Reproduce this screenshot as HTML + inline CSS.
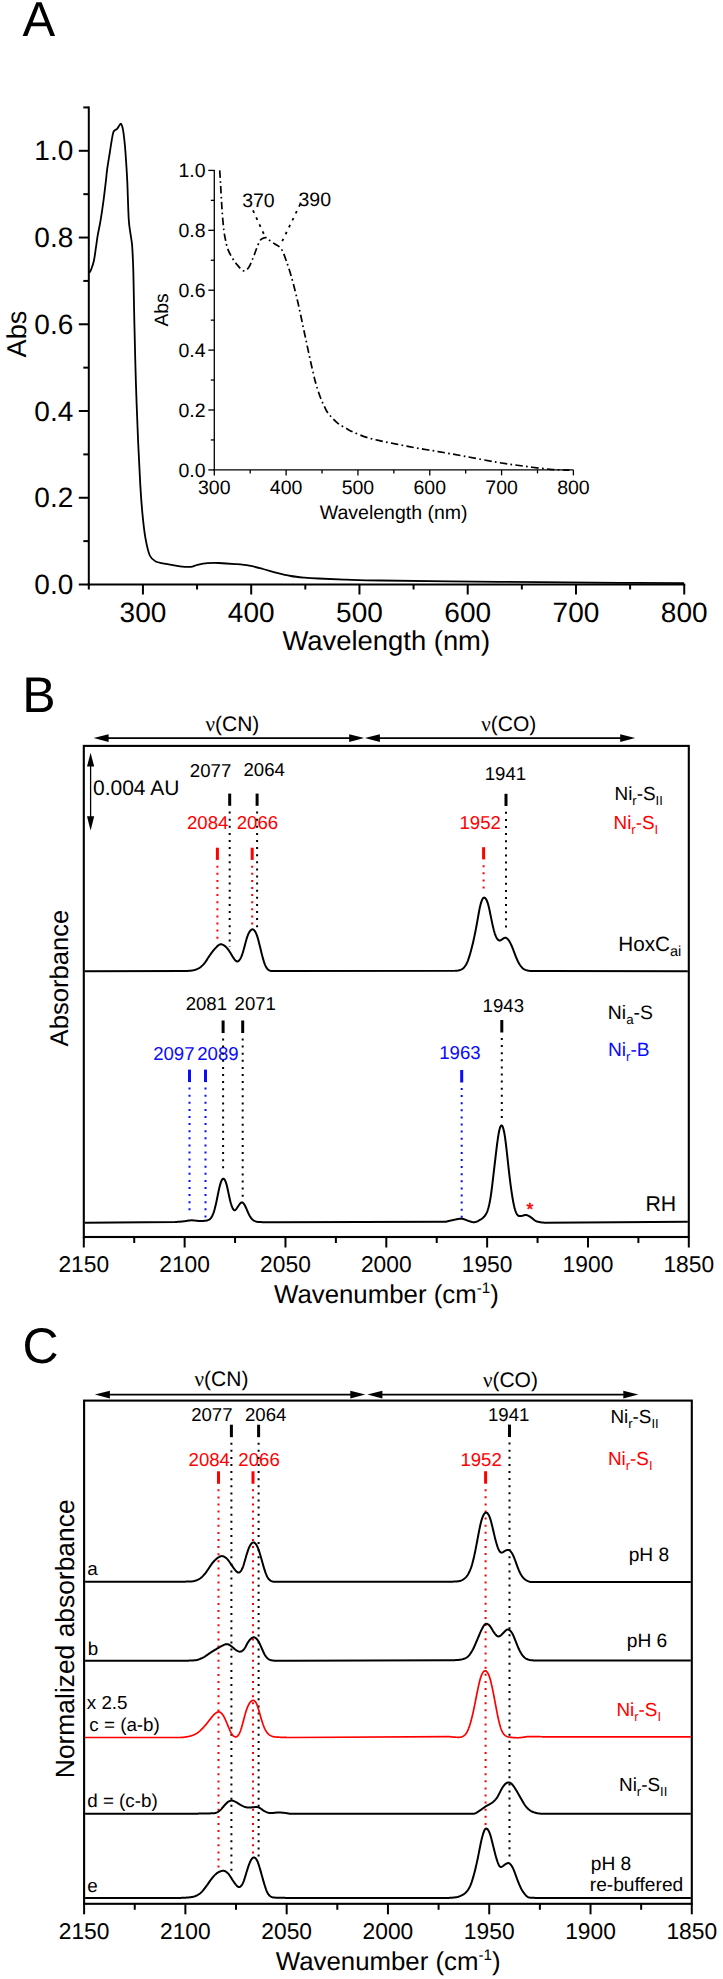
<!DOCTYPE html>
<html><head><meta charset="utf-8"><style>
html,body{margin:0;padding:0;background:#fff;overflow:hidden;}
svg{display:block;font-family:"Liberation Sans", sans-serif;text-rendering:geometricPrecision;}
</style></head><body>
<svg width="723" height="1979" viewBox="0 0 723 1979">
<rect width="723" height="1979" fill="#fff"/>
<text x="22.50" y="36.00" font-size="49" text-anchor="start" fill="#000" >A</text>
<line x1="88.80" y1="106.43" x2="88.80" y2="585.50" stroke="#000" stroke-width="2" />
<line x1="87.80" y1="584.50" x2="685.23" y2="584.50" stroke="#000" stroke-width="2" />
<line x1="78.80" y1="584.50" x2="88.80" y2="584.50" stroke="#000" stroke-width="2" />
<text x="73.30" y="594.10" font-size="28" text-anchor="end" fill="#000" >0.0</text>
<line x1="83.30" y1="541.13" x2="88.80" y2="541.13" stroke="#000" stroke-width="2" />
<line x1="78.80" y1="497.76" x2="88.80" y2="497.76" stroke="#000" stroke-width="2" />
<text x="73.30" y="507.36" font-size="28" text-anchor="end" fill="#000" >0.2</text>
<line x1="83.30" y1="454.39" x2="88.80" y2="454.39" stroke="#000" stroke-width="2" />
<line x1="78.80" y1="411.02" x2="88.80" y2="411.02" stroke="#000" stroke-width="2" />
<text x="73.30" y="420.62" font-size="28" text-anchor="end" fill="#000" >0.4</text>
<line x1="83.30" y1="367.65" x2="88.80" y2="367.65" stroke="#000" stroke-width="2" />
<line x1="78.80" y1="324.28" x2="88.80" y2="324.28" stroke="#000" stroke-width="2" />
<text x="73.30" y="333.88" font-size="28" text-anchor="end" fill="#000" >0.6</text>
<line x1="83.30" y1="280.91" x2="88.80" y2="280.91" stroke="#000" stroke-width="2" />
<line x1="78.80" y1="237.54" x2="88.80" y2="237.54" stroke="#000" stroke-width="2" />
<text x="73.30" y="247.14" font-size="28" text-anchor="end" fill="#000" >0.8</text>
<line x1="83.30" y1="194.17" x2="88.80" y2="194.17" stroke="#000" stroke-width="2" />
<line x1="78.80" y1="150.80" x2="88.80" y2="150.80" stroke="#000" stroke-width="2" />
<text x="73.30" y="160.40" font-size="28" text-anchor="end" fill="#000" >1.0</text>
<line x1="83.30" y1="107.43" x2="88.80" y2="107.43" stroke="#000" stroke-width="2" />
<line x1="88.80" y1="584.50" x2="88.80" y2="589.50" stroke="#000" stroke-width="2" />
<line x1="142.93" y1="584.50" x2="142.93" y2="594.50" stroke="#000" stroke-width="2" />
<text x="142.93" y="622.00" font-size="28" text-anchor="middle" fill="#000" >300</text>
<line x1="197.06" y1="584.50" x2="197.06" y2="589.50" stroke="#000" stroke-width="2" />
<line x1="251.19" y1="584.50" x2="251.19" y2="594.50" stroke="#000" stroke-width="2" />
<text x="251.19" y="622.00" font-size="28" text-anchor="middle" fill="#000" >400</text>
<line x1="305.32" y1="584.50" x2="305.32" y2="589.50" stroke="#000" stroke-width="2" />
<line x1="359.45" y1="584.50" x2="359.45" y2="594.50" stroke="#000" stroke-width="2" />
<text x="359.45" y="622.00" font-size="28" text-anchor="middle" fill="#000" >500</text>
<line x1="413.58" y1="584.50" x2="413.58" y2="589.50" stroke="#000" stroke-width="2" />
<line x1="467.71" y1="584.50" x2="467.71" y2="594.50" stroke="#000" stroke-width="2" />
<text x="467.71" y="622.00" font-size="28" text-anchor="middle" fill="#000" >600</text>
<line x1="521.84" y1="584.50" x2="521.84" y2="589.50" stroke="#000" stroke-width="2" />
<line x1="575.97" y1="584.50" x2="575.97" y2="594.50" stroke="#000" stroke-width="2" />
<text x="575.97" y="622.00" font-size="28" text-anchor="middle" fill="#000" >700</text>
<line x1="630.10" y1="584.50" x2="630.10" y2="589.50" stroke="#000" stroke-width="2" />
<line x1="684.23" y1="584.50" x2="684.23" y2="594.50" stroke="#000" stroke-width="2" />
<text x="684.23" y="622.00" font-size="28" text-anchor="middle" fill="#000" >800</text>
<text x="386.30" y="650.00" font-size="27.4" text-anchor="middle" fill="#000" >Wavelength (nm)</text>
<text x="26.00" y="334.00" font-size="27.2" text-anchor="middle" fill="#000" transform="rotate(-90 26 334)">Abs</text>
<path d="M89.20,273.00 C89.52,272.43 90.32,271.63 91.10,269.60 C91.88,267.57 93.07,264.67 93.90,260.80 C94.73,256.93 95.47,250.65 96.10,246.40 C96.73,242.15 96.97,239.55 97.70,235.30 C98.43,231.05 99.57,226.43 100.50,220.90 C101.43,215.37 102.38,208.92 103.30,202.10 C104.22,195.28 105.37,185.38 106.00,180.00 C106.63,174.62 106.45,174.47 107.10,169.80 C107.75,165.13 109.15,156.80 109.90,152.00 C110.65,147.20 111.05,144.22 111.60,141.00 C112.15,137.78 112.65,134.50 113.20,132.70 C113.75,130.90 114.25,130.85 114.90,130.20 C115.55,129.55 116.37,129.58 117.10,128.80 C117.83,128.02 118.65,126.33 119.30,125.50 C119.95,124.67 120.45,123.43 121.00,123.80 C121.55,124.17 122.15,125.95 122.60,127.70 C123.05,129.45 123.30,131.17 123.70,134.30 C124.10,137.43 124.58,141.70 125.00,146.50 C125.42,151.30 125.82,157.20 126.20,163.10 C126.58,169.00 126.88,172.63 127.30,181.90 C127.72,191.17 128.18,210.17 128.70,218.70 C129.22,227.23 129.85,228.85 130.40,233.10 C130.95,237.35 131.60,240.13 132.00,244.20 C132.40,248.27 132.57,252.53 132.80,257.50 C133.03,262.47 133.13,262.92 133.40,274.00 C133.67,285.08 133.98,305.90 134.40,324.00 C134.82,342.10 135.28,363.07 135.90,382.60 C136.52,402.13 137.37,424.12 138.10,441.20 C138.83,458.28 139.57,472.90 140.30,485.10 C141.03,497.30 141.65,505.60 142.50,514.40 C143.35,523.20 144.18,531.05 145.40,537.90 C146.62,544.75 148.08,551.57 149.80,555.50 C151.52,559.43 152.77,560.05 155.70,561.50 C158.63,562.95 163.35,563.40 167.40,564.20 C171.45,565.00 176.40,565.85 180.00,566.30 C183.60,566.75 186.83,566.88 189.00,566.90 C191.17,566.92 191.58,566.73 193.00,566.40 C194.42,566.07 195.05,565.43 197.50,564.90 C199.95,564.37 204.17,563.52 207.70,563.20 C211.23,562.88 214.10,562.85 218.70,563.00 C223.30,563.15 230.22,563.65 235.30,564.10 C240.38,564.55 244.58,564.88 249.20,565.70 C253.82,566.52 258.40,567.80 263.00,569.00 C267.60,570.20 272.18,571.73 276.80,572.90 C281.42,574.07 286.08,575.22 290.70,576.00 C295.32,576.78 299.90,577.18 304.50,577.60 C309.10,578.02 311.38,578.17 318.30,578.50 C325.22,578.83 335.72,579.27 346.00,579.60 C356.28,579.93 362.67,580.22 380.00,580.50 C397.33,580.78 423.33,581.02 450.00,581.30 C476.67,581.58 511.67,581.95 540.00,582.20 C568.33,582.45 596.00,582.63 620.00,582.80 C644.00,582.97 673.33,583.13 684.00,583.20" fill="none" stroke="#000" stroke-width="1.8" stroke-linejoin="round" stroke-linecap="butt" />
<line x1="214.30" y1="169.90" x2="214.30" y2="470.40" stroke="#000" stroke-width="1.3" />
<line x1="213.80" y1="469.90" x2="573.40" y2="469.90" stroke="#000" stroke-width="1.3" />
<line x1="208.30" y1="469.90" x2="214.30" y2="469.90" stroke="#000" stroke-width="1.3" />
<text x="205.50" y="476.70" font-size="19.5" text-anchor="end" fill="#000" >0.0</text>
<line x1="210.80" y1="439.95" x2="214.30" y2="439.95" stroke="#000" stroke-width="1.3" />
<line x1="208.30" y1="410.00" x2="214.30" y2="410.00" stroke="#000" stroke-width="1.3" />
<text x="205.50" y="416.80" font-size="19.5" text-anchor="end" fill="#000" >0.2</text>
<line x1="210.80" y1="380.05" x2="214.30" y2="380.05" stroke="#000" stroke-width="1.3" />
<line x1="208.30" y1="350.10" x2="214.30" y2="350.10" stroke="#000" stroke-width="1.3" />
<text x="205.50" y="356.90" font-size="19.5" text-anchor="end" fill="#000" >0.4</text>
<line x1="210.80" y1="320.15" x2="214.30" y2="320.15" stroke="#000" stroke-width="1.3" />
<line x1="208.30" y1="290.20" x2="214.30" y2="290.20" stroke="#000" stroke-width="1.3" />
<text x="205.50" y="297.00" font-size="19.5" text-anchor="end" fill="#000" >0.6</text>
<line x1="210.80" y1="260.25" x2="214.30" y2="260.25" stroke="#000" stroke-width="1.3" />
<line x1="208.30" y1="230.30" x2="214.30" y2="230.30" stroke="#000" stroke-width="1.3" />
<text x="205.50" y="237.10" font-size="19.5" text-anchor="end" fill="#000" >0.8</text>
<line x1="210.80" y1="200.35" x2="214.30" y2="200.35" stroke="#000" stroke-width="1.3" />
<line x1="208.30" y1="170.40" x2="214.30" y2="170.40" stroke="#000" stroke-width="1.3" />
<text x="205.50" y="177.20" font-size="19.5" text-anchor="end" fill="#000" >1.0</text>
<line x1="214.30" y1="469.90" x2="214.30" y2="475.40" stroke="#000" stroke-width="1.3" />
<text x="214.30" y="494.30" font-size="19.5" text-anchor="middle" fill="#000" >300</text>
<line x1="250.21" y1="469.90" x2="250.21" y2="473.40" stroke="#000" stroke-width="1.3" />
<line x1="286.12" y1="469.90" x2="286.12" y2="475.40" stroke="#000" stroke-width="1.3" />
<text x="286.12" y="494.30" font-size="19.5" text-anchor="middle" fill="#000" >400</text>
<line x1="322.03" y1="469.90" x2="322.03" y2="473.40" stroke="#000" stroke-width="1.3" />
<line x1="357.94" y1="469.90" x2="357.94" y2="475.40" stroke="#000" stroke-width="1.3" />
<text x="357.94" y="494.30" font-size="19.5" text-anchor="middle" fill="#000" >500</text>
<line x1="393.85" y1="469.90" x2="393.85" y2="473.40" stroke="#000" stroke-width="1.3" />
<line x1="429.76" y1="469.90" x2="429.76" y2="475.40" stroke="#000" stroke-width="1.3" />
<text x="429.76" y="494.30" font-size="19.5" text-anchor="middle" fill="#000" >600</text>
<line x1="465.67" y1="469.90" x2="465.67" y2="473.40" stroke="#000" stroke-width="1.3" />
<line x1="501.58" y1="469.90" x2="501.58" y2="475.40" stroke="#000" stroke-width="1.3" />
<text x="501.58" y="494.30" font-size="19.5" text-anchor="middle" fill="#000" >700</text>
<line x1="537.49" y1="469.90" x2="537.49" y2="473.40" stroke="#000" stroke-width="1.3" />
<line x1="573.40" y1="469.90" x2="573.40" y2="475.40" stroke="#000" stroke-width="1.3" />
<text x="573.40" y="494.30" font-size="19.5" text-anchor="middle" fill="#000" >800</text>
<text x="393.70" y="519.40" font-size="19.5" text-anchor="middle" fill="#000" >Wavelength (nm)</text>
<text x="168.20" y="310.00" font-size="19.3" text-anchor="middle" fill="#000" transform="rotate(-90 168.2 310)">Abs</text>
<text x="258.40" y="207.00" font-size="19.5" text-anchor="middle" fill="#000" >370</text>
<text x="314.80" y="206.20" font-size="19.5" text-anchor="middle" fill="#000" >390</text>
<path d="M219.70,170.40 C219.83,172.50 220.25,178.73 220.50,183.00 C220.75,187.27 220.92,191.17 221.20,196.00 C221.48,200.83 221.77,206.33 222.20,212.00 C222.63,217.67 223.25,225.35 223.80,230.00 C224.35,234.65 224.85,236.77 225.50,239.90 C226.15,243.03 226.60,245.85 227.70,248.80 C228.80,251.75 230.43,254.83 232.10,257.60 C233.77,260.37 235.77,263.18 237.70,265.40 C239.63,267.62 241.87,270.53 243.70,270.90 C245.53,271.27 247.12,269.82 248.70,267.60 C250.28,265.38 251.90,260.73 253.20,257.60 C254.50,254.47 255.40,251.57 256.50,248.80 C257.60,246.03 258.88,242.67 259.80,241.00 C260.72,239.33 260.90,239.35 262.00,238.80 C263.10,238.25 265.10,237.42 266.40,237.70 C267.70,237.98 268.32,239.40 269.80,240.50 C271.28,241.60 273.65,243.20 275.30,244.30 C276.95,245.40 278.42,245.80 279.70,247.10 C280.98,248.40 281.90,249.80 283.00,252.10 C284.10,254.40 284.97,257.02 286.30,260.90 C287.63,264.78 289.48,270.22 291.00,275.40 C292.52,280.58 294.10,286.83 295.40,292.00 C296.70,297.17 297.68,301.42 298.80,306.40 C299.92,311.38 301.00,316.73 302.10,321.90 C303.20,327.07 304.30,332.23 305.40,337.40 C306.50,342.57 307.53,347.55 308.70,352.90 C309.87,358.25 311.15,364.17 312.40,369.50 C313.65,374.83 314.82,380.12 316.20,384.90 C317.58,389.68 319.45,394.87 320.70,398.20 C321.95,401.53 322.58,402.55 323.70,404.90 C324.82,407.25 325.95,410.10 327.40,412.30 C328.85,414.50 330.60,416.22 332.40,418.10 C334.20,419.98 336.02,421.95 338.20,423.60 C340.38,425.25 342.90,426.53 345.50,428.00 C348.10,429.47 350.10,430.78 353.80,432.40 C357.50,434.02 363.08,436.25 367.70,437.70 C372.32,439.15 376.90,440.07 381.50,441.10 C386.10,442.13 390.68,442.97 395.30,443.90 C399.92,444.83 404.58,445.83 409.20,446.70 C413.82,447.57 418.17,448.28 423.00,449.10 C427.83,449.92 431.22,450.40 438.20,451.60 C445.18,452.80 455.28,454.55 464.90,456.30 C474.52,458.05 486.22,460.48 495.90,462.10 C505.58,463.72 513.97,464.80 523.00,466.00 C532.03,467.20 542.35,468.60 550.10,469.30 C557.85,470.00 566.27,470.05 569.50,470.20" fill="none" stroke="#000" stroke-width="1.7" stroke-linejoin="round" stroke-linecap="butt" stroke-dasharray="7.5 3.3 1.7 3.3"/>
<path d="M253.0,210.3 L264.6,235.6" fill="none" stroke="#000" stroke-width="1.8" stroke-linejoin="round" stroke-linecap="butt" stroke-dasharray="2.7 5"/>
<path d="M300.2,204.2 L280.6,244.5" fill="none" stroke="#000" stroke-width="1.8" stroke-linejoin="round" stroke-linecap="butt" stroke-dasharray="2.6 5.1"/>
<text x="22.30" y="712.30" font-size="50" text-anchor="start" fill="#000" >B</text>
<rect x="83.8" y="745.9" width="605.00" height="491.10" fill="none" stroke="#000" stroke-width="2.1"/>
<line x1="107.60" y1="738.10" x2="350.20" y2="738.10" stroke="#000" stroke-width="1.6" />
<path d="M93.60,738.10 L108.60,734.30 L108.60,741.90 Z" fill="#000"/>
<path d="M364.20,738.10 L349.20,734.30 L349.20,741.90 Z" fill="#000"/>
<line x1="378.90" y1="738.10" x2="621.20" y2="738.10" stroke="#000" stroke-width="1.6" />
<path d="M364.90,738.10 L379.90,734.30 L379.90,741.90 Z" fill="#000"/>
<path d="M635.20,738.10 L620.20,734.30 L620.20,741.90 Z" fill="#000"/>
<text x="205.50" y="730.90" font-size="21" text-anchor="start" fill="#000" ><tspan font-family="Liberation Serif">&#957;</tspan>(CN)</text>
<text x="481.30" y="731.40" font-size="21" text-anchor="start" fill="#000" ><tspan font-family="Liberation Serif">&#957;</tspan>(CO)</text>
<line x1="90.60" y1="765.00" x2="90.60" y2="817.50" stroke="#000" stroke-width="1.3" />
<path d="M90.6,752.7 L87,766.6 L94.2,766.6 Z" fill="#000"/>
<path d="M90.6,830.5 L87,816.2 L94.2,816.2 Z" fill="#000"/>
<text x="92.96" y="794.80" font-size="21" text-anchor="start" fill="#000" >0.004 AU</text>
<text x="189.87" y="777.20" font-size="18.6" text-anchor="start" fill="#000" >2077</text>
<text x="243.47" y="776.00" font-size="18.6" text-anchor="start" fill="#000" >2064</text>
<text x="484.71" y="779.70" font-size="18.6" text-anchor="start" fill="#000" >1941</text>
<text x="186.97" y="828.70" font-size="18.6" text-anchor="start" fill="#ff0000" >2084</text>
<text x="236.77" y="828.70" font-size="18.6" text-anchor="start" fill="#ff0000" >2066</text>
<text x="459.50" y="829.40" font-size="18.6" text-anchor="start" fill="#ff0000" >1952</text>
<text x="614.49" y="800.30" font-size="18.9" fill="#000">Ni<tspan font-size="13" dy="5">r</tspan><tspan dy="-5">-S</tspan><tspan font-size="13" dy="5">II</tspan></text>
<text x="613.49" y="829.10" font-size="18.9" fill="#ff0000">Ni<tspan font-size="13" dy="5">r</tspan><tspan dy="-5">-S</tspan><tspan font-size="13" dy="5">I</tspan></text>
<line x1="229.70" y1="793.60" x2="229.70" y2="805.80" stroke="#000" stroke-width="3.0" />
<line x1="229.70" y1="811.60" x2="229.70" y2="947.00" stroke="#000" stroke-width="2.0" stroke-dasharray="2.0 5.10"/>
<line x1="257.10" y1="793.60" x2="257.10" y2="805.80" stroke="#000" stroke-width="3.0" />
<line x1="257.10" y1="811.60" x2="257.10" y2="931.00" stroke="#000" stroke-width="2.0" stroke-dasharray="2.0 5.10"/>
<line x1="506.00" y1="793.80" x2="506.00" y2="806.00" stroke="#000" stroke-width="3.0" />
<line x1="506.00" y1="811.80" x2="506.00" y2="930.50" stroke="#000" stroke-width="2.0" stroke-dasharray="2.0 5.10"/>
<line x1="217.40" y1="847.70" x2="217.40" y2="859.90" stroke="#ff0000" stroke-width="3.0" />
<line x1="217.40" y1="865.70" x2="217.40" y2="941.50" stroke="#ff0000" stroke-width="2.0" stroke-dasharray="2.0 5.10"/>
<line x1="252.20" y1="847.70" x2="252.20" y2="859.90" stroke="#ff0000" stroke-width="3.0" />
<line x1="252.20" y1="865.70" x2="252.20" y2="925.50" stroke="#ff0000" stroke-width="2.0" stroke-dasharray="2.0 5.10"/>
<line x1="483.60" y1="847.20" x2="483.60" y2="859.40" stroke="#ff0000" stroke-width="3.0" />
<line x1="483.60" y1="865.20" x2="483.60" y2="891.00" stroke="#ff0000" stroke-width="2.0" stroke-dasharray="2.0 5.10"/>
<text x="618.24" y="950.5" font-size="20.7">HoxC<tspan font-size="14.5" dy="5">ai</tspan></text>
<text x="185.67" y="1010.00" font-size="18.6" text-anchor="start" fill="#000" >2081</text>
<text x="234.57" y="1010.00" font-size="18.6" text-anchor="start" fill="#000" >2071</text>
<text x="482.61" y="1011.80" font-size="18.6" text-anchor="start" fill="#000" >1943</text>
<text x="607.85" y="1019.2" font-size="19.4">Ni<tspan font-size="13.3" dy="5">a</tspan><tspan dy="-5">-S</tspan></text>
<text x="153.17" y="1059.60" font-size="18.6" text-anchor="start" fill="#0a0aff" >2097</text>
<text x="197.27" y="1059.60" font-size="18.6" text-anchor="start" fill="#0a0aff" >2089</text>
<text x="439.21" y="1059.20" font-size="18.6" text-anchor="start" fill="#0a0aff" >1963</text>
<text x="607.96" y="1056.2" font-size="19.2" fill="#0a0aff">Ni<tspan font-size="13" dy="5">r</tspan><tspan dy="-5">-B</tspan></text>
<line x1="223.10" y1="1020.50" x2="223.10" y2="1033.00" stroke="#000" stroke-width="3.0" />
<line x1="223.10" y1="1038.50" x2="223.10" y2="1171.00" stroke="#000" stroke-width="2.0" stroke-dasharray="2.0 5.10"/>
<line x1="242.70" y1="1020.50" x2="242.70" y2="1033.00" stroke="#000" stroke-width="3.0" />
<line x1="242.70" y1="1038.50" x2="242.70" y2="1198.50" stroke="#000" stroke-width="2.0" stroke-dasharray="2.0 5.10"/>
<line x1="501.80" y1="1020.00" x2="501.80" y2="1032.50" stroke="#000" stroke-width="3.0" />
<line x1="501.80" y1="1038.00" x2="501.80" y2="1120.00" stroke="#000" stroke-width="2.0" stroke-dasharray="2.0 5.10"/>
<line x1="189.50" y1="1069.60" x2="189.50" y2="1082.10" stroke="#0a0aff" stroke-width="3.0" />
<line x1="189.50" y1="1087.60" x2="189.50" y2="1215.00" stroke="#0a0aff" stroke-width="2.0" stroke-dasharray="2.0 5.10"/>
<line x1="205.50" y1="1069.60" x2="205.50" y2="1082.10" stroke="#0a0aff" stroke-width="3.0" />
<line x1="205.50" y1="1087.60" x2="205.50" y2="1219.50" stroke="#0a0aff" stroke-width="2.0" stroke-dasharray="2.0 5.10"/>
<line x1="461.70" y1="1070.00" x2="461.70" y2="1082.50" stroke="#0a0aff" stroke-width="3.0" />
<line x1="461.70" y1="1088.00" x2="461.70" y2="1218.50" stroke="#0a0aff" stroke-width="2.0" stroke-dasharray="2.0 5.10"/>
<text x="645.40" y="1210.50" font-size="21.3" text-anchor="start" fill="#000" >RH</text>
<text x="529.8" y="1214.8" font-size="17.5" text-anchor="middle" fill="#ff0000" stroke="#ff0000" stroke-width="0.5">*</text>
<path d="M84.8,971.20 L185.0,970.99 L185.5,970.99 L186.0,970.98 L186.5,970.96 L187.0,970.95 L187.5,970.93 L188.0,970.90 L188.5,970.87 L189.0,970.84 L189.5,970.80 L190.0,970.76 L190.5,970.72 L191.0,970.67 L191.5,970.62 L192.0,970.55 L192.5,970.48 L193.0,970.39 L193.5,970.28 L194.0,970.16 L194.5,970.02 L195.0,969.86 L195.5,969.69 L196.0,969.51 L196.5,969.31 L197.0,969.10 L197.5,968.88 L198.0,968.64 L198.5,968.39 L199.0,968.11 L199.5,967.81 L200.0,967.48 L200.5,967.11 L201.0,966.72 L201.5,966.29 L202.0,965.84 L202.5,965.36 L203.0,964.85 L203.5,964.32 L204.0,963.76 L204.5,963.16 L205.0,962.53 L205.5,961.86 L206.0,961.15 L206.5,960.40 L207.0,959.63 L207.5,958.84 L208.0,958.05 L208.5,957.27 L209.0,956.50 L209.5,955.75 L210.0,955.02 L210.5,954.31 L211.0,953.62 L211.5,952.94 L212.0,952.27 L212.5,951.62 L213.0,950.99 L213.5,950.37 L214.0,949.78 L214.5,949.21 L215.0,948.65 L215.5,948.12 L216.0,947.59 L216.5,947.07 L217.0,946.57 L217.5,946.08 L218.0,945.63 L218.5,945.22 L219.0,944.88 L219.5,944.60 L220.0,944.40 L220.5,944.29 L221.0,944.26 L221.5,944.31 L222.0,944.43 L222.5,944.61 L223.0,944.84 L223.5,945.11 L224.0,945.42 L224.5,945.76 L225.0,946.14 L225.5,946.55 L226.0,947.01 L226.5,947.52 L227.0,948.07 L227.5,948.67 L228.0,949.30 L228.5,949.97 L229.0,950.68 L229.5,951.43 L230.0,952.22 L230.5,953.04 L231.0,953.88 L231.5,954.74 L232.0,955.58 L232.5,956.40 L233.0,957.19 L233.5,957.95 L234.0,958.66 L234.5,959.33 L235.0,959.95 L235.5,960.49 L236.0,960.93 L236.5,961.26 L237.0,961.43 L237.5,961.45 L238.0,961.30 L238.5,960.99 L239.0,960.54 L239.5,959.95 L240.0,959.24 L240.5,958.39 L241.0,957.41 L241.5,956.28 L242.0,954.98 L242.5,953.53 L243.0,951.95 L243.5,950.25 L244.0,948.47 L244.5,946.63 L245.0,944.75 L245.5,942.86 L246.0,940.99 L246.5,939.21 L247.0,937.55 L247.5,936.07 L248.0,934.77 L248.5,933.64 L249.0,932.67 L249.5,931.82 L250.0,931.09 L250.5,930.47 L251.0,929.97 L251.5,929.60 L252.0,929.38 L252.5,929.31 L253.0,929.41 L253.5,929.67 L254.0,930.08 L254.5,930.64 L255.0,931.33 L255.5,932.16 L256.0,933.14 L256.5,934.30 L257.0,935.65 L257.5,937.18 L258.0,938.89 L258.5,940.73 L259.0,942.67 L259.5,944.67 L260.0,946.71 L260.5,948.78 L261.0,950.84 L261.5,952.89 L262.0,954.88 L262.5,956.80 L263.0,958.61 L263.5,960.31 L264.0,961.89 L264.5,963.35 L265.0,964.67 L265.5,965.84 L266.0,966.85 L266.5,967.70 L267.0,968.41 L267.5,968.99 L268.0,969.47 L268.5,969.87 L269.0,970.20 L269.5,970.47 L270.0,970.67 L270.5,970.81 L271.0,970.90 L271.5,970.95 L272.0,970.98 L272.5,970.99 L273.0,971.00 L273.5,971.00 L274.0,971.00 L274.5,971.00 L275.0,971.00 L275.5,971.00 L276.0,971.00 L276.5,971.00 L277.0,971.00 L277.5,971.00 L278.0,971.00 L278.5,971.00 L279.0,971.00 L279.5,971.00 L280.0,971.00 L280.5,971.00 L281.0,971.00 L281.5,971.00 L282.0,971.00 L282.5,971.00 L283.0,971.00 L283.5,971.00 L284.0,971.00 L284.5,971.00 L285.0,971.00 L455.0,970.87 L455.5,970.85 L456.0,970.82 L456.5,970.77 L457.0,970.71 L457.5,970.63 L458.0,970.54 L458.5,970.43 L459.0,970.32 L459.5,970.18 L460.0,970.03 L460.5,969.86 L461.0,969.67 L461.5,969.43 L462.0,969.15 L462.5,968.81 L463.0,968.41 L463.5,967.96 L464.0,967.44 L464.5,966.86 L465.0,966.22 L465.5,965.50 L466.0,964.69 L466.5,963.78 L467.0,962.75 L467.5,961.58 L468.0,960.30 L468.5,958.90 L469.0,957.40 L469.5,955.83 L470.0,954.18 L470.5,952.45 L471.0,950.65 L471.5,948.77 L472.0,946.81 L472.5,944.77 L473.0,942.66 L473.5,940.47 L474.0,938.20 L474.5,935.85 L475.0,933.43 L475.5,930.93 L476.0,928.36 L476.5,925.71 L477.0,922.99 L477.5,920.19 L478.0,917.35 L478.5,914.50 L479.0,911.73 L479.5,909.13 L480.0,906.76 L480.5,904.67 L481.0,902.87 L481.5,901.35 L482.0,900.08 L482.5,899.07 L483.0,898.32 L483.5,897.83 L484.0,897.61 L484.5,897.65 L485.0,897.93 L485.5,898.41 L486.0,899.09 L486.5,899.96 L487.0,901.03 L487.5,902.35 L488.0,903.92 L488.5,905.76 L489.0,907.84 L489.5,910.09 L490.0,912.47 L490.5,914.92 L491.0,917.39 L491.5,919.85 L492.0,922.27 L492.5,924.60 L493.0,926.81 L493.5,928.87 L494.0,930.76 L494.5,932.49 L495.0,934.04 L495.5,935.42 L496.0,936.63 L496.5,937.67 L497.0,938.54 L497.5,939.26 L498.0,939.81 L498.5,940.20 L499.0,940.44 L499.5,940.52 L500.0,940.46 L500.5,940.29 L501.0,940.03 L501.5,939.73 L502.0,939.39 L502.5,939.05 L503.0,938.70 L503.5,938.38 L504.0,938.09 L504.5,937.87 L505.0,937.75 L505.5,937.74 L506.0,937.85 L506.5,938.08 L507.0,938.43 L507.5,938.88 L508.0,939.41 L508.5,940.03 L509.0,940.74 L509.5,941.53 L510.0,942.41 L510.5,943.37 L511.0,944.40 L511.5,945.50 L512.0,946.65 L512.5,947.87 L513.0,949.13 L513.5,950.44 L514.0,951.78 L514.5,953.13 L515.0,954.47 L515.5,955.77 L516.0,957.03 L516.5,958.23 L517.0,959.38 L517.5,960.48 L518.0,961.51 L518.5,962.48 L519.0,963.37 L519.5,964.20 L520.0,964.96 L520.5,965.66 L521.0,966.32 L521.5,966.93 L522.0,967.49 L522.5,968.00 L523.0,968.45 L523.5,968.85 L524.0,969.19 L524.5,969.47 L525.0,969.70 L525.5,969.90 L526.0,970.07 L526.5,970.22 L527.0,970.35 L527.5,970.47 L528.0,970.59 L528.5,970.69 L529.0,970.78 L529.5,970.86 L530.0,970.92 L530.5,970.98 L531.0,971.02 L531.5,971.05 L532.0,971.07 L532.5,971.09 L533.0,971.09 L533.5,971.10 L534.0,971.10 L534.5,971.10 L535.0,971.10 L535.5,971.10 L536.0,971.09 L536.5,971.09 L537.0,971.09 L537.5,971.08 L538.0,971.08 L538.5,971.07 L539.0,971.07 L539.5,971.06 L540.0,971.05 L540.5,971.04 L541.0,971.03 L541.5,971.02 L542.0,971.01 L542.5,970.99 L543.0,970.98 L543.5,970.96 L544.0,970.95 L544.5,970.93 L545.0,970.92 L687.8,971.30" fill="none" stroke="#000" stroke-width="2.0" stroke-linejoin="round" stroke-linecap="butt" />
<path d="M84.8,1222.80 L175.0,1221.98 L175.5,1221.96 L176.0,1221.94 L176.5,1221.92 L177.0,1221.89 L177.5,1221.86 L178.0,1221.83 L178.5,1221.80 L179.0,1221.76 L179.5,1221.72 L180.0,1221.68 L180.5,1221.64 L181.0,1221.60 L181.5,1221.56 L182.0,1221.51 L182.5,1221.47 L183.0,1221.42 L183.5,1221.36 L184.0,1221.30 L184.5,1221.23 L185.0,1221.16 L185.5,1221.09 L186.0,1221.00 L186.5,1220.92 L187.0,1220.84 L187.5,1220.75 L188.0,1220.67 L188.5,1220.60 L189.0,1220.53 L189.5,1220.47 L190.0,1220.42 L190.5,1220.38 L191.0,1220.35 L191.5,1220.34 L192.0,1220.34 L192.5,1220.36 L193.0,1220.38 L193.5,1220.42 L194.0,1220.46 L194.5,1220.51 L195.0,1220.56 L195.5,1220.62 L196.0,1220.68 L196.5,1220.74 L197.0,1220.79 L197.5,1220.84 L198.0,1220.88 L198.5,1220.92 L199.0,1220.95 L199.5,1220.97 L200.0,1220.98 L200.5,1220.98 L201.0,1220.97 L201.5,1220.96 L202.0,1220.95 L202.5,1220.93 L203.0,1220.90 L203.5,1220.88 L204.0,1220.84 L204.5,1220.81 L205.0,1220.76 L205.5,1220.71 L206.0,1220.65 L206.5,1220.57 L207.0,1220.47 L207.5,1220.33 L208.0,1220.16 L208.5,1219.94 L209.0,1219.67 L209.5,1219.34 L210.0,1218.95 L210.5,1218.48 L211.0,1217.90 L211.5,1217.20 L212.0,1216.35 L212.5,1215.34 L213.0,1214.18 L213.5,1212.85 L214.0,1211.36 L214.5,1209.69 L215.0,1207.85 L215.5,1205.84 L216.0,1203.67 L216.5,1201.37 L217.0,1198.97 L217.5,1196.51 L218.0,1194.03 L218.5,1191.59 L219.0,1189.27 L219.5,1187.10 L220.0,1185.15 L220.5,1183.43 L221.0,1181.95 L221.5,1180.73 L222.0,1179.77 L222.5,1179.11 L223.0,1178.76 L223.5,1178.72 L224.0,1178.98 L224.5,1179.52 L225.0,1180.33 L225.5,1181.39 L226.0,1182.74 L226.5,1184.37 L227.0,1186.28 L227.5,1188.43 L228.0,1190.74 L228.5,1193.13 L229.0,1195.49 L229.5,1197.76 L230.0,1199.91 L230.5,1201.90 L231.0,1203.71 L231.5,1205.32 L232.0,1206.73 L232.5,1207.93 L233.0,1208.91 L233.5,1209.65 L234.0,1210.13 L234.5,1210.33 L235.0,1210.25 L235.5,1209.93 L236.0,1209.40 L236.5,1208.74 L237.0,1207.99 L237.5,1207.22 L238.0,1206.45 L238.5,1205.70 L239.0,1204.97 L239.5,1204.29 L240.0,1203.66 L240.5,1203.13 L241.0,1202.71 L241.5,1202.45 L242.0,1202.38 L242.5,1202.51 L243.0,1202.83 L243.5,1203.35 L244.0,1204.02 L244.5,1204.82 L245.0,1205.73 L245.5,1206.72 L246.0,1207.78 L246.5,1208.90 L247.0,1210.07 L247.5,1211.24 L248.0,1212.39 L248.5,1213.49 L249.0,1214.52 L249.5,1215.47 L250.0,1216.34 L250.5,1217.14 L251.0,1217.87 L251.5,1218.53 L252.0,1219.10 L252.5,1219.60 L253.0,1220.03 L253.5,1220.38 L254.0,1220.69 L254.5,1220.95 L255.0,1221.18 L255.5,1221.37 L256.0,1221.54 L256.5,1221.68 L257.0,1221.79 L257.5,1221.88 L258.0,1221.95 L258.5,1221.99 L259.0,1222.02 L259.5,1222.05 L260.0,1222.07 L260.5,1222.09 L261.0,1222.10 L261.5,1222.12 L262.0,1222.13 L262.5,1222.15 L263.0,1222.16 L263.5,1222.17 L264.0,1222.19 L264.5,1222.20 L265.0,1222.21 L265.5,1222.22 L266.0,1222.23 L266.5,1222.23 L267.0,1222.24 L267.5,1222.25 L268.0,1222.26 L268.5,1222.26 L269.0,1222.27 L269.5,1222.27 L270.0,1222.28 L270.5,1222.28 L271.0,1222.29 L271.5,1222.29 L272.0,1222.29 L272.5,1222.29 L273.0,1222.30 L273.5,1222.30 L274.0,1222.30 L274.5,1222.30 L275.0,1222.30 L445.0,1221.87 L445.5,1221.79 L446.0,1221.70 L446.5,1221.58 L447.0,1221.46 L447.5,1221.34 L448.0,1221.21 L448.5,1221.08 L449.0,1220.96 L449.5,1220.84 L450.0,1220.72 L450.5,1220.61 L451.0,1220.49 L451.5,1220.38 L452.0,1220.27 L452.5,1220.17 L453.0,1220.06 L453.5,1219.95 L454.0,1219.85 L454.5,1219.74 L455.0,1219.63 L455.5,1219.52 L456.0,1219.41 L456.5,1219.31 L457.0,1219.20 L457.5,1219.10 L458.0,1219.01 L458.5,1218.92 L459.0,1218.85 L459.5,1218.78 L460.0,1218.73 L460.5,1218.69 L461.0,1218.68 L461.5,1218.69 L462.0,1218.73 L462.5,1218.80 L463.0,1218.90 L463.5,1219.04 L464.0,1219.20 L464.5,1219.38 L465.0,1219.58 L465.5,1219.78 L466.0,1219.99 L466.5,1220.19 L467.0,1220.38 L467.5,1220.57 L468.0,1220.75 L468.5,1220.92 L469.0,1221.09 L469.5,1221.25 L470.0,1221.42 L470.5,1221.57 L471.0,1221.72 L471.5,1221.86 L472.0,1221.97 L472.5,1222.07 L473.0,1222.14 L473.5,1222.18 L474.0,1222.19 L474.5,1222.16 L475.0,1222.10 L475.5,1222.00 L476.0,1221.86 L476.5,1221.69 L477.0,1221.50 L477.5,1221.27 L478.0,1221.03 L478.5,1220.77 L479.0,1220.49 L479.5,1220.20 L480.0,1219.90 L480.5,1219.59 L481.0,1219.27 L481.5,1218.93 L482.0,1218.57 L482.5,1218.19 L483.0,1217.77 L483.5,1217.32 L484.0,1216.82 L484.5,1216.26 L485.0,1215.64 L485.5,1214.94 L486.0,1214.13 L486.5,1213.19 L487.0,1212.08 L487.5,1210.77 L488.0,1209.25 L488.5,1207.49 L489.0,1205.50 L489.5,1203.25 L490.0,1200.70 L490.5,1197.83 L491.0,1194.59 L491.5,1191.00 L492.0,1187.10 L492.5,1182.96 L493.0,1178.69 L493.5,1174.36 L494.0,1170.05 L494.5,1165.77 L495.0,1161.52 L495.5,1157.30 L496.0,1153.11 L496.5,1148.97 L497.0,1144.94 L497.5,1141.10 L498.0,1137.56 L498.5,1134.41 L499.0,1131.70 L499.5,1129.47 L500.0,1127.72 L500.5,1126.46 L501.0,1125.69 L501.5,1125.43 L502.0,1125.67 L502.5,1126.40 L503.0,1127.60 L503.5,1129.27 L504.0,1131.42 L504.5,1134.06 L505.0,1137.21 L505.5,1140.82 L506.0,1144.81 L506.5,1149.09 L507.0,1153.57 L507.5,1158.15 L508.0,1162.76 L508.5,1167.32 L509.0,1171.77 L509.5,1176.07 L510.0,1180.18 L510.5,1184.10 L511.0,1187.81 L511.5,1191.32 L512.0,1194.63 L512.5,1197.72 L513.0,1200.60 L513.5,1203.22 L514.0,1205.58 L514.5,1207.66 L515.0,1209.47 L515.5,1211.02 L516.0,1212.34 L516.5,1213.44 L517.0,1214.33 L517.5,1215.01 L518.0,1215.50 L518.5,1215.81 L519.0,1215.98 L519.5,1216.05 L520.0,1216.06 L520.5,1216.03 L521.0,1215.98 L521.5,1215.91 L522.0,1215.83 L522.5,1215.72 L523.0,1215.60 L523.5,1215.47 L524.0,1215.33 L524.5,1215.20 L525.0,1215.09 L525.5,1215.02 L526.0,1215.01 L526.5,1215.06 L527.0,1215.17 L527.5,1215.34 L528.0,1215.55 L528.5,1215.81 L529.0,1216.09 L529.5,1216.39 L530.0,1216.71 L530.5,1217.05 L531.0,1217.40 L531.5,1217.76 L532.0,1218.15 L532.5,1218.55 L533.0,1218.97 L533.5,1219.38 L534.0,1219.78 L534.5,1220.16 L535.0,1220.50 L535.5,1220.80 L536.0,1221.05 L536.5,1221.26 L537.0,1221.44 L537.5,1221.59 L538.0,1221.72 L538.5,1221.85 L539.0,1221.96 L539.5,1222.06 L540.0,1222.16 L540.5,1222.25 L541.0,1222.34 L541.5,1222.41 L542.0,1222.48 L542.5,1222.53 L543.0,1222.58 L543.5,1222.62 L544.0,1222.65 L544.5,1222.67 L545.0,1222.68 L687.8,1221.80" fill="none" stroke="#000" stroke-width="2.0" stroke-linejoin="round" stroke-linecap="butt" />
<line x1="83.80" y1="1237.00" x2="83.80" y2="1247.50" stroke="#000" stroke-width="2" />
<text x="83.80" y="1271.60" font-size="22.8" text-anchor="middle" fill="#000" >2150</text>
<line x1="134.22" y1="1237.00" x2="134.22" y2="1243.00" stroke="#000" stroke-width="2" />
<line x1="184.63" y1="1237.00" x2="184.63" y2="1247.50" stroke="#000" stroke-width="2" />
<text x="184.63" y="1271.60" font-size="22.8" text-anchor="middle" fill="#000" >2100</text>
<line x1="235.05" y1="1237.00" x2="235.05" y2="1243.00" stroke="#000" stroke-width="2" />
<line x1="285.47" y1="1237.00" x2="285.47" y2="1247.50" stroke="#000" stroke-width="2" />
<text x="285.47" y="1271.60" font-size="22.8" text-anchor="middle" fill="#000" >2050</text>
<line x1="335.88" y1="1237.00" x2="335.88" y2="1243.00" stroke="#000" stroke-width="2" />
<line x1="386.30" y1="1237.00" x2="386.30" y2="1247.50" stroke="#000" stroke-width="2" />
<text x="386.30" y="1271.60" font-size="22.8" text-anchor="middle" fill="#000" >2000</text>
<line x1="436.72" y1="1237.00" x2="436.72" y2="1243.00" stroke="#000" stroke-width="2" />
<line x1="487.13" y1="1237.00" x2="487.13" y2="1247.50" stroke="#000" stroke-width="2" />
<text x="487.13" y="1271.60" font-size="22.8" text-anchor="middle" fill="#000" >1950</text>
<line x1="537.55" y1="1237.00" x2="537.55" y2="1243.00" stroke="#000" stroke-width="2" />
<line x1="587.97" y1="1237.00" x2="587.97" y2="1247.50" stroke="#000" stroke-width="2" />
<text x="587.97" y="1271.60" font-size="22.8" text-anchor="middle" fill="#000" >1900</text>
<line x1="638.38" y1="1237.00" x2="638.38" y2="1243.00" stroke="#000" stroke-width="2" />
<line x1="688.80" y1="1237.00" x2="688.80" y2="1247.50" stroke="#000" stroke-width="2" />
<text x="688.80" y="1271.60" font-size="22.8" text-anchor="middle" fill="#000" >1850</text>
<text x="386.40" y="1303.10" font-size="25.8" text-anchor="middle" fill="#000" >Wavenumber (cm<tspan font-size="15.2" dy="-10.6">-1</tspan><tspan dy="10.6">)</tspan></text>
<text x="67.70" y="978.10" font-size="25.6" text-anchor="middle" fill="#000" transform="rotate(-90 67.7 978.1)">Absorbance</text>
<text x="22.40" y="1363.30" font-size="50" text-anchor="start" fill="#000" >C</text>
<rect x="84.1" y="1400.6" width="607.70" height="503.20" fill="none" stroke="#000" stroke-width="2.1"/>
<line x1="108.90" y1="1394.60" x2="351.30" y2="1394.60" stroke="#000" stroke-width="1.6" />
<path d="M94.90,1394.60 L109.90,1390.80 L109.90,1398.40 Z" fill="#000"/>
<path d="M365.30,1394.60 L350.30,1390.80 L350.30,1398.40 Z" fill="#000"/>
<line x1="381.40" y1="1394.60" x2="624.30" y2="1394.60" stroke="#000" stroke-width="1.6" />
<path d="M367.40,1394.60 L382.40,1390.80 L382.40,1398.40 Z" fill="#000"/>
<path d="M638.30,1394.60 L623.30,1390.80 L623.30,1398.40 Z" fill="#000"/>
<text x="194.60" y="1386.30" font-size="21" text-anchor="start" fill="#000" ><tspan font-family="Liberation Serif">&#957;</tspan>(CN)</text>
<text x="482.90" y="1386.60" font-size="21" text-anchor="start" fill="#000" ><tspan font-family="Liberation Serif">&#957;</tspan>(CO)</text>
<text x="191.17" y="1420.60" font-size="18.6" text-anchor="start" fill="#000" >2077</text>
<text x="244.97" y="1420.60" font-size="18.6" text-anchor="start" fill="#000" >2064</text>
<text x="488.00" y="1421.00" font-size="18.6" text-anchor="start" fill="#000" >1941</text>
<text x="188.57" y="1465.60" font-size="18.6" text-anchor="start" fill="#ff0000" >2084</text>
<text x="238.37" y="1465.60" font-size="18.6" text-anchor="start" fill="#ff0000" >2066</text>
<text x="460.41" y="1466.00" font-size="18.6" text-anchor="start" fill="#ff0000" >1952</text>
<text x="610.39" y="1422.70" font-size="18.9" fill="#000">Ni<tspan font-size="13" dy="5">r</tspan><tspan dy="-5">-S</tspan><tspan font-size="13" dy="5">II</tspan></text>
<text x="607.89" y="1464.80" font-size="18.9" fill="#ff0000">Ni<tspan font-size="13" dy="5">r</tspan><tspan dy="-5">-S</tspan><tspan font-size="13" dy="5">I</tspan></text>
<line x1="231.40" y1="1424.70" x2="231.40" y2="1437.20" stroke="#000" stroke-width="3.0" />
<line x1="231.40" y1="1442.70" x2="231.40" y2="1871.00" stroke="#000" stroke-width="2.0" stroke-dasharray="2.0 5.10"/>
<line x1="258.60" y1="1424.70" x2="258.60" y2="1437.20" stroke="#000" stroke-width="3.0" />
<line x1="258.60" y1="1442.70" x2="258.60" y2="1857.00" stroke="#000" stroke-width="2.0" stroke-dasharray="2.0 5.10"/>
<line x1="509.50" y1="1424.60" x2="509.50" y2="1437.10" stroke="#000" stroke-width="3.0" />
<line x1="509.50" y1="1442.60" x2="509.50" y2="1859.50" stroke="#000" stroke-width="2.0" stroke-dasharray="2.0 5.10"/>
<line x1="218.50" y1="1471.30" x2="218.50" y2="1483.80" stroke="#ff0000" stroke-width="3.0" />
<line x1="218.50" y1="1489.30" x2="218.50" y2="1871.00" stroke="#ff0000" stroke-width="2.0" stroke-dasharray="2.0 5.10"/>
<line x1="253.00" y1="1471.30" x2="253.00" y2="1483.80" stroke="#ff0000" stroke-width="3.0" />
<line x1="253.00" y1="1489.30" x2="253.00" y2="1854.50" stroke="#ff0000" stroke-width="2.0" stroke-dasharray="2.0 5.10"/>
<line x1="485.60" y1="1471.20" x2="485.60" y2="1483.70" stroke="#ff0000" stroke-width="3.0" />
<line x1="485.60" y1="1489.20" x2="485.60" y2="1826.00" stroke="#ff0000" stroke-width="2.0" stroke-dasharray="2.0 5.10"/>
<text x="87.25" y="1574.60" font-size="18.8" text-anchor="start" fill="#000" >a</text>
<text x="87.78" y="1655.30" font-size="18.8" text-anchor="start" fill="#000" >b</text>
<text x="86.81" y="1709.30" font-size="18.8" text-anchor="start" fill="#000" >x 2.5</text>
<text x="89.35" y="1731.10" font-size="18.8" text-anchor="start" fill="#000" >c = (a-b)</text>
<text x="87.25" y="1807.10" font-size="18.8" text-anchor="start" fill="#000" >d = (c-b)</text>
<text x="87.25" y="1891.80" font-size="18.8" text-anchor="start" fill="#000" >e</text>
<text x="628.65" y="1560.50" font-size="19.2" text-anchor="start" fill="#000" >pH 8</text>
<text x="626.75" y="1647.00" font-size="19.2" text-anchor="start" fill="#000" >pH 6</text>
<text x="616.39" y="1716.40" font-size="18.9" fill="#ff0000">Ni<tspan font-size="13" dy="5">r</tspan><tspan dy="-5">-S</tspan><tspan font-size="13" dy="5">I</tspan></text>
<text x="618.99" y="1791.40" font-size="18.9" fill="#000">Ni<tspan font-size="13" dy="5">r</tspan><tspan dy="-5">-S</tspan><tspan font-size="13" dy="5">II</tspan></text>
<text x="590.75" y="1870.00" font-size="19.2" text-anchor="start" fill="#000" >pH 8</text>
<text x="589.75" y="1891.00" font-size="19.2" text-anchor="start" fill="#000" >re-buffered</text>
<path d="M85.1,1581.70 L180.0,1581.70 L180.5,1581.70 L181.0,1581.70 L181.5,1581.69 L182.0,1581.69 L182.5,1581.68 L183.0,1581.68 L183.5,1581.67 L184.0,1581.66 L184.5,1581.66 L185.0,1581.65 L185.5,1581.64 L186.0,1581.62 L186.5,1581.61 L187.0,1581.60 L187.5,1581.58 L188.0,1581.57 L188.5,1581.55 L189.0,1581.53 L189.5,1581.52 L190.0,1581.50 L190.5,1581.47 L191.0,1581.45 L191.5,1581.42 L192.0,1581.38 L192.5,1581.33 L193.0,1581.26 L193.5,1581.18 L194.0,1581.08 L194.5,1580.95 L195.0,1580.81 L195.5,1580.64 L196.0,1580.46 L196.5,1580.27 L197.0,1580.06 L197.5,1579.83 L198.0,1579.60 L198.5,1579.35 L199.0,1579.08 L199.5,1578.80 L200.0,1578.49 L200.5,1578.15 L201.0,1577.78 L201.5,1577.36 L202.0,1576.92 L202.5,1576.43 L203.0,1575.92 L203.5,1575.38 L204.0,1574.82 L204.5,1574.24 L205.0,1573.64 L205.5,1573.03 L206.0,1572.39 L206.5,1571.72 L207.0,1571.02 L207.5,1570.29 L208.0,1569.54 L208.5,1568.76 L209.0,1567.98 L209.5,1567.19 L210.0,1566.42 L210.5,1565.67 L211.0,1564.95 L211.5,1564.25 L212.0,1563.59 L212.5,1562.96 L213.0,1562.35 L213.5,1561.77 L214.0,1561.21 L214.5,1560.67 L215.0,1560.15 L215.5,1559.67 L216.0,1559.21 L216.5,1558.78 L217.0,1558.39 L217.5,1558.02 L218.0,1557.67 L218.5,1557.34 L219.0,1557.04 L219.5,1556.76 L220.0,1556.53 L220.5,1556.33 L221.0,1556.20 L221.5,1556.12 L222.0,1556.11 L222.5,1556.16 L223.0,1556.27 L223.5,1556.44 L224.0,1556.66 L224.5,1556.92 L225.0,1557.22 L225.5,1557.55 L226.0,1557.93 L226.5,1558.35 L227.0,1558.83 L227.5,1559.36 L228.0,1559.95 L228.5,1560.60 L229.0,1561.28 L229.5,1562.00 L230.0,1562.73 L230.5,1563.46 L231.0,1564.20 L231.5,1564.93 L232.0,1565.67 L232.5,1566.40 L233.0,1567.12 L233.5,1567.82 L234.0,1568.50 L234.5,1569.16 L235.0,1569.79 L235.5,1570.39 L236.0,1570.96 L236.5,1571.47 L237.0,1571.92 L237.5,1572.27 L238.0,1572.50 L238.5,1572.59 L239.0,1572.52 L239.5,1572.30 L240.0,1571.93 L240.5,1571.42 L241.0,1570.77 L241.5,1570.00 L242.0,1569.08 L242.5,1568.01 L243.0,1566.76 L243.5,1565.34 L244.0,1563.76 L244.5,1562.06 L245.0,1560.30 L245.5,1558.53 L246.0,1556.78 L246.5,1555.08 L247.0,1553.43 L247.5,1551.85 L248.0,1550.36 L248.5,1548.97 L249.0,1547.71 L249.5,1546.60 L250.0,1545.63 L250.5,1544.79 L251.0,1544.09 L251.5,1543.50 L252.0,1543.02 L252.5,1542.68 L253.0,1542.47 L253.5,1542.41 L254.0,1542.50 L254.5,1542.75 L255.0,1543.14 L255.5,1543.67 L256.0,1544.31 L256.5,1545.08 L257.0,1545.98 L257.5,1547.01 L258.0,1548.19 L258.5,1549.50 L259.0,1550.93 L259.5,1552.46 L260.0,1554.06 L260.5,1555.72 L261.0,1557.45 L261.5,1559.21 L262.0,1561.02 L262.5,1562.83 L263.0,1564.63 L263.5,1566.38 L264.0,1568.06 L264.5,1569.66 L265.0,1571.17 L265.5,1572.60 L266.0,1573.93 L266.5,1575.15 L267.0,1576.25 L267.5,1577.21 L268.0,1578.03 L268.5,1578.73 L269.0,1579.32 L269.5,1579.83 L270.0,1580.26 L270.5,1580.63 L271.0,1580.94 L271.5,1581.19 L272.0,1581.38 L272.5,1581.52 L273.0,1581.60 L273.5,1581.65 L274.0,1581.68 L274.5,1581.69 L275.0,1581.70 L275.5,1581.70 L276.0,1581.70 L276.5,1581.70 L277.0,1581.70 L277.5,1581.70 L278.0,1581.70 L278.5,1581.70 L279.0,1581.70 L279.5,1581.70 L280.0,1581.70 L280.5,1581.70 L281.0,1581.70 L281.5,1581.70 L282.0,1581.70 L282.5,1581.70 L283.0,1581.70 L283.5,1581.70 L284.0,1581.70 L284.5,1581.70 L285.0,1581.70 L285.5,1581.70 L286.0,1581.70 L286.5,1581.70 L287.0,1581.70 L287.5,1581.70 L288.0,1581.70 L288.5,1581.70 L289.0,1581.70 L289.5,1581.70 L290.0,1581.70 L450.0,1581.70 L450.5,1581.69 L451.0,1581.69 L451.5,1581.68 L452.0,1581.67 L452.5,1581.65 L453.0,1581.64 L453.5,1581.62 L454.0,1581.59 L454.5,1581.57 L455.0,1581.54 L455.5,1581.51 L456.0,1581.47 L456.5,1581.44 L457.0,1581.40 L457.5,1581.35 L458.0,1581.30 L458.5,1581.24 L459.0,1581.17 L459.5,1581.08 L460.0,1580.96 L460.5,1580.81 L461.0,1580.63 L461.5,1580.42 L462.0,1580.17 L462.5,1579.90 L463.0,1579.59 L463.5,1579.26 L464.0,1578.90 L464.5,1578.51 L465.0,1578.09 L465.5,1577.63 L466.0,1577.13 L466.5,1576.56 L467.0,1575.92 L467.5,1575.21 L468.0,1574.42 L468.5,1573.54 L469.0,1572.59 L469.5,1571.56 L470.0,1570.44 L470.5,1569.22 L471.0,1567.88 L471.5,1566.41 L472.0,1564.79 L472.5,1563.02 L473.0,1561.11 L473.5,1559.07 L474.0,1556.91 L474.5,1554.65 L475.0,1552.29 L475.5,1549.83 L476.0,1547.28 L476.5,1544.66 L477.0,1542.00 L477.5,1539.32 L478.0,1536.65 L478.5,1534.01 L479.0,1531.41 L479.5,1528.90 L480.0,1526.50 L480.5,1524.25 L481.0,1522.20 L481.5,1520.34 L482.0,1518.70 L482.5,1517.26 L483.0,1516.03 L483.5,1515.00 L484.0,1514.16 L484.5,1513.52 L485.0,1513.06 L485.5,1512.76 L486.0,1512.62 L486.5,1512.65 L487.0,1512.86 L487.5,1513.25 L488.0,1513.83 L488.5,1514.59 L489.0,1515.55 L489.5,1516.70 L490.0,1518.05 L490.5,1519.60 L491.0,1521.33 L491.5,1523.21 L492.0,1525.21 L492.5,1527.29 L493.0,1529.42 L493.5,1531.59 L494.0,1533.75 L494.5,1535.87 L495.0,1537.92 L495.5,1539.90 L496.0,1541.77 L496.5,1543.54 L497.0,1545.18 L497.5,1546.68 L498.0,1548.03 L498.5,1549.21 L499.0,1550.23 L499.5,1551.07 L500.0,1551.74 L500.5,1552.22 L501.0,1552.52 L501.5,1552.63 L502.0,1552.59 L502.5,1552.41 L503.0,1552.14 L503.5,1551.81 L504.0,1551.47 L504.5,1551.15 L505.0,1550.85 L505.5,1550.59 L506.0,1550.38 L506.5,1550.20 L507.0,1550.06 L507.5,1549.98 L508.0,1549.95 L508.5,1550.01 L509.0,1550.16 L509.5,1550.42 L510.0,1550.78 L510.5,1551.25 L511.0,1551.81 L511.5,1552.48 L512.0,1553.25 L512.5,1554.13 L513.0,1555.13 L513.5,1556.23 L514.0,1557.42 L514.5,1558.68 L515.0,1559.99 L515.5,1561.33 L516.0,1562.69 L516.5,1564.07 L517.0,1565.47 L517.5,1566.85 L518.0,1568.19 L518.5,1569.48 L519.0,1570.68 L519.5,1571.79 L520.0,1572.81 L520.5,1573.75 L521.0,1574.62 L521.5,1575.43 L522.0,1576.18 L522.5,1576.88 L523.0,1577.51 L523.5,1578.09 L524.0,1578.59 L524.5,1579.04 L525.0,1579.44 L525.5,1579.79 L526.0,1580.11 L526.5,1580.41 L527.0,1580.68 L527.5,1580.93 L528.0,1581.16 L528.5,1581.37 L529.0,1581.55 L529.5,1581.70 L530.0,1581.83 L530.5,1581.93 L531.0,1582.00 L531.5,1582.04 L532.0,1582.07 L532.5,1582.09 L533.0,1582.10 L533.5,1582.10 L534.0,1582.10 L534.5,1582.10 L535.0,1582.10 L535.5,1582.10 L536.0,1582.10 L536.5,1582.10 L537.0,1582.10 L537.5,1582.10 L538.0,1582.10 L538.5,1582.10 L539.0,1582.10 L539.5,1582.10 L540.0,1582.10 L540.5,1582.10 L541.0,1582.10 L541.5,1582.10 L542.0,1582.10 L542.5,1582.10 L543.0,1582.10 L543.5,1582.10 L544.0,1582.10 L544.5,1582.10 L545.0,1582.10 L690.8,1582.10" fill="none" stroke="#000" stroke-width="2.0" stroke-linejoin="round" stroke-linecap="butt" />
<path d="M85.1,1660.80 L180.0,1660.80 L180.5,1660.80 L181.0,1660.80 L181.5,1660.79 L182.0,1660.79 L182.5,1660.78 L183.0,1660.78 L183.5,1660.77 L184.0,1660.76 L184.5,1660.75 L185.0,1660.74 L185.5,1660.73 L186.0,1660.72 L186.5,1660.71 L187.0,1660.69 L187.5,1660.68 L188.0,1660.66 L188.5,1660.64 L189.0,1660.62 L189.5,1660.60 L190.0,1660.58 L190.5,1660.56 L191.0,1660.54 L191.5,1660.51 L192.0,1660.49 L192.5,1660.46 L193.0,1660.43 L193.5,1660.40 L194.0,1660.37 L194.5,1660.33 L195.0,1660.28 L195.5,1660.22 L196.0,1660.15 L196.5,1660.06 L197.0,1659.95 L197.5,1659.82 L198.0,1659.67 L198.5,1659.51 L199.0,1659.33 L199.5,1659.14 L200.0,1658.93 L200.5,1658.72 L201.0,1658.51 L201.5,1658.28 L202.0,1658.05 L202.5,1657.81 L203.0,1657.56 L203.5,1657.30 L204.0,1657.03 L204.5,1656.74 L205.0,1656.43 L205.5,1656.10 L206.0,1655.77 L206.5,1655.42 L207.0,1655.07 L207.5,1654.72 L208.0,1654.36 L208.5,1654.01 L209.0,1653.66 L209.5,1653.32 L210.0,1652.98 L210.5,1652.66 L211.0,1652.33 L211.5,1652.02 L212.0,1651.70 L212.5,1651.39 L213.0,1651.08 L213.5,1650.78 L214.0,1650.47 L214.5,1650.17 L215.0,1649.87 L215.5,1649.57 L216.0,1649.27 L216.5,1648.97 L217.0,1648.68 L217.5,1648.39 L218.0,1648.10 L218.5,1647.82 L219.0,1647.53 L219.5,1647.25 L220.0,1646.97 L220.5,1646.69 L221.0,1646.42 L221.5,1646.16 L222.0,1645.90 L222.5,1645.65 L223.0,1645.40 L223.5,1645.15 L224.0,1644.91 L224.5,1644.69 L225.0,1644.48 L225.5,1644.32 L226.0,1644.19 L226.5,1644.13 L227.0,1644.12 L227.5,1644.18 L228.0,1644.31 L228.5,1644.49 L229.0,1644.72 L229.5,1644.99 L230.0,1645.29 L230.5,1645.62 L231.0,1645.97 L231.5,1646.34 L232.0,1646.74 L232.5,1647.15 L233.0,1647.58 L233.5,1648.02 L234.0,1648.45 L234.5,1648.87 L235.0,1649.26 L235.5,1649.63 L236.0,1649.98 L236.5,1650.31 L237.0,1650.61 L237.5,1650.90 L238.0,1651.15 L238.5,1651.36 L239.0,1651.53 L239.5,1651.63 L240.0,1651.66 L240.5,1651.62 L241.0,1651.50 L241.5,1651.30 L242.0,1651.04 L242.5,1650.70 L243.0,1650.30 L243.5,1649.82 L244.0,1649.25 L244.5,1648.58 L245.0,1647.80 L245.5,1646.93 L246.0,1646.00 L246.5,1645.03 L247.0,1644.08 L247.5,1643.16 L248.0,1642.32 L248.5,1641.56 L249.0,1640.87 L249.5,1640.25 L250.0,1639.68 L250.5,1639.16 L251.0,1638.69 L251.5,1638.27 L252.0,1637.91 L252.5,1637.63 L253.0,1637.44 L253.5,1637.34 L254.0,1637.34 L254.5,1637.45 L255.0,1637.66 L255.5,1637.96 L256.0,1638.34 L256.5,1638.80 L257.0,1639.33 L257.5,1639.95 L258.0,1640.65 L258.5,1641.44 L259.0,1642.33 L259.5,1643.31 L260.0,1644.34 L260.5,1645.43 L261.0,1646.55 L261.5,1647.69 L262.0,1648.85 L262.5,1650.01 L263.0,1651.16 L263.5,1652.27 L264.0,1653.33 L264.5,1654.29 L265.0,1655.17 L265.5,1655.94 L266.0,1656.63 L266.5,1657.24 L267.0,1657.79 L267.5,1658.28 L268.0,1658.70 L268.5,1659.07 L269.0,1659.39 L269.5,1659.64 L270.0,1659.85 L270.5,1660.02 L271.0,1660.16 L271.5,1660.27 L272.0,1660.38 L272.5,1660.47 L273.0,1660.55 L273.5,1660.61 L274.0,1660.67 L274.5,1660.71 L275.0,1660.75 L275.5,1660.77 L276.0,1660.78 L276.5,1660.79 L277.0,1660.80 L277.5,1660.80 L278.0,1660.80 L278.5,1660.80 L279.0,1660.80 L279.5,1660.80 L280.0,1660.80 L280.5,1660.80 L281.0,1660.80 L281.5,1660.80 L282.0,1660.80 L282.5,1660.80 L283.0,1660.80 L283.5,1660.80 L284.0,1660.80 L284.5,1660.80 L285.0,1660.80 L285.5,1660.80 L286.0,1660.80 L286.5,1660.80 L287.0,1660.80 L287.5,1660.80 L288.0,1660.80 L288.5,1660.80 L289.0,1660.80 L289.5,1660.80 L290.0,1660.80 L450.0,1660.30 L450.5,1660.29 L451.0,1660.29 L451.5,1660.28 L452.0,1660.27 L452.5,1660.25 L453.0,1660.24 L453.5,1660.22 L454.0,1660.20 L454.5,1660.17 L455.0,1660.14 L455.5,1660.11 L456.0,1660.08 L456.5,1660.05 L457.0,1660.01 L457.5,1659.97 L458.0,1659.93 L458.5,1659.89 L459.0,1659.84 L459.5,1659.79 L460.0,1659.73 L460.5,1659.67 L461.0,1659.59 L461.5,1659.50 L462.0,1659.39 L462.5,1659.26 L463.0,1659.11 L463.5,1658.95 L464.0,1658.76 L464.5,1658.56 L465.0,1658.34 L465.5,1658.10 L466.0,1657.84 L466.5,1657.55 L467.0,1657.22 L467.5,1656.85 L468.0,1656.43 L468.5,1655.94 L469.0,1655.39 L469.5,1654.79 L470.0,1654.13 L470.5,1653.43 L471.0,1652.68 L471.5,1651.90 L472.0,1651.07 L472.5,1650.19 L473.0,1649.27 L473.5,1648.28 L474.0,1647.24 L474.5,1646.15 L475.0,1645.02 L475.5,1643.86 L476.0,1642.69 L476.5,1641.50 L477.0,1640.32 L477.5,1639.13 L478.0,1637.94 L478.5,1636.75 L479.0,1635.56 L479.5,1634.37 L480.0,1633.20 L480.5,1632.06 L481.0,1630.96 L481.5,1629.90 L482.0,1628.89 L482.5,1627.92 L483.0,1627.01 L483.5,1626.17 L484.0,1625.42 L484.5,1624.79 L485.0,1624.31 L485.5,1623.99 L486.0,1623.82 L486.5,1623.80 L487.0,1623.88 L487.5,1624.06 L488.0,1624.32 L488.5,1624.64 L489.0,1625.04 L489.5,1625.52 L490.0,1626.11 L490.5,1626.79 L491.0,1627.56 L491.5,1628.38 L492.0,1629.24 L492.5,1630.09 L493.0,1630.92 L493.5,1631.70 L494.0,1632.45 L494.5,1633.15 L495.0,1633.82 L495.5,1634.45 L496.0,1635.03 L496.5,1635.53 L497.0,1635.94 L497.5,1636.25 L498.0,1636.43 L498.5,1636.48 L499.0,1636.41 L499.5,1636.23 L500.0,1635.94 L500.5,1635.58 L501.0,1635.17 L501.5,1634.72 L502.0,1634.25 L502.5,1633.76 L503.0,1633.26 L503.5,1632.75 L504.0,1632.22 L504.5,1631.70 L505.0,1631.18 L505.5,1630.70 L506.0,1630.27 L506.5,1629.92 L507.0,1629.66 L507.5,1629.52 L508.0,1629.49 L508.5,1629.58 L509.0,1629.79 L509.5,1630.10 L510.0,1630.50 L510.5,1630.98 L511.0,1631.55 L511.5,1632.21 L512.0,1632.98 L512.5,1633.86 L513.0,1634.85 L513.5,1635.96 L514.0,1637.15 L514.5,1638.39 L515.0,1639.66 L515.5,1640.94 L516.0,1642.21 L516.5,1643.46 L517.0,1644.70 L517.5,1645.92 L518.0,1647.10 L518.5,1648.23 L519.0,1649.31 L519.5,1650.32 L520.0,1651.28 L520.5,1652.18 L521.0,1653.04 L521.5,1653.85 L522.0,1654.62 L522.5,1655.33 L523.0,1655.98 L523.5,1656.56 L524.0,1657.08 L524.5,1657.52 L525.0,1657.91 L525.5,1658.24 L526.0,1658.53 L526.5,1658.80 L527.0,1659.03 L527.5,1659.25 L528.0,1659.45 L528.5,1659.63 L529.0,1659.79 L529.5,1659.92 L530.0,1660.04 L530.5,1660.13 L531.0,1660.20 L531.5,1660.26 L532.0,1660.30 L532.5,1660.33 L533.0,1660.36 L533.5,1660.38 L534.0,1660.40 L534.5,1660.42 L535.0,1660.44 L535.5,1660.45 L536.0,1660.47 L536.5,1660.48 L537.0,1660.50 L537.5,1660.51 L538.0,1660.52 L538.5,1660.53 L539.0,1660.54 L539.5,1660.55 L540.0,1660.56 L540.5,1660.57 L541.0,1660.57 L541.5,1660.58 L542.0,1660.58 L542.5,1660.59 L543.0,1660.59 L543.5,1660.59 L544.0,1660.60 L544.5,1660.60 L545.0,1660.60 L690.8,1660.60" fill="none" stroke="#000" stroke-width="2.0" stroke-linejoin="round" stroke-linecap="butt" />
<path d="M85.1,1737.49 L180.0,1737.49 L180.5,1737.48 L181.0,1737.46 L181.5,1737.44 L182.0,1737.41 L182.5,1737.37 L183.0,1737.33 L183.5,1737.28 L184.0,1737.22 L184.5,1737.16 L185.0,1737.09 L185.5,1737.02 L186.0,1736.94 L186.5,1736.86 L187.0,1736.77 L187.5,1736.69 L188.0,1736.59 L188.5,1736.50 L189.0,1736.40 L189.5,1736.29 L190.0,1736.16 L190.5,1736.03 L191.0,1735.89 L191.5,1735.73 L192.0,1735.55 L192.5,1735.37 L193.0,1735.17 L193.5,1734.96 L194.0,1734.74 L194.5,1734.51 L195.0,1734.26 L195.5,1734.01 L196.0,1733.74 L196.5,1733.46 L197.0,1733.16 L197.5,1732.83 L198.0,1732.49 L198.5,1732.11 L199.0,1731.71 L199.5,1731.29 L200.0,1730.85 L200.5,1730.38 L201.0,1729.90 L201.5,1729.41 L202.0,1728.90 L202.5,1728.39 L203.0,1727.86 L203.5,1727.33 L204.0,1726.79 L204.5,1726.24 L205.0,1725.67 L205.5,1725.08 L206.0,1724.48 L206.5,1723.86 L207.0,1723.24 L207.5,1722.60 L208.0,1721.95 L208.5,1721.31 L209.0,1720.67 L209.5,1720.03 L210.0,1719.40 L210.5,1718.77 L211.0,1718.14 L211.5,1717.51 L212.0,1716.89 L212.5,1716.29 L213.0,1715.70 L213.5,1715.14 L214.0,1714.62 L214.5,1714.15 L215.0,1713.71 L215.5,1713.31 L216.0,1712.95 L216.5,1712.63 L217.0,1712.35 L217.5,1712.13 L218.0,1711.98 L218.5,1711.90 L219.0,1711.92 L219.5,1712.03 L220.0,1712.23 L220.5,1712.52 L221.0,1712.89 L221.5,1713.33 L222.0,1713.86 L222.5,1714.46 L223.0,1715.15 L223.5,1715.95 L224.0,1716.84 L224.5,1717.82 L225.0,1718.87 L225.5,1719.98 L226.0,1721.12 L226.5,1722.29 L227.0,1723.48 L227.5,1724.68 L228.0,1725.90 L228.5,1727.10 L229.0,1728.28 L229.5,1729.43 L230.0,1730.53 L230.5,1731.57 L231.0,1732.55 L231.5,1733.45 L232.0,1734.26 L232.5,1734.96 L233.0,1735.54 L233.5,1736.00 L234.0,1736.36 L234.5,1736.62 L235.0,1736.79 L235.5,1736.87 L236.0,1736.84 L236.5,1736.70 L237.0,1736.43 L237.5,1736.05 L238.0,1735.54 L238.5,1734.89 L239.0,1734.11 L239.5,1733.16 L240.0,1732.03 L240.5,1730.72 L241.0,1729.24 L241.5,1727.63 L242.0,1725.91 L242.5,1724.13 L243.0,1722.30 L243.5,1720.45 L244.0,1718.58 L244.5,1716.71 L245.0,1714.88 L245.5,1713.10 L246.0,1711.43 L246.5,1709.88 L247.0,1708.47 L247.5,1707.18 L248.0,1706.03 L248.5,1704.98 L249.0,1704.05 L249.5,1703.22 L250.0,1702.50 L250.5,1701.89 L251.0,1701.37 L251.5,1700.96 L252.0,1700.64 L252.5,1700.43 L253.0,1700.33 L253.5,1700.35 L254.0,1700.52 L254.5,1700.82 L255.0,1701.27 L255.5,1701.87 L256.0,1702.65 L256.5,1703.62 L257.0,1704.79 L257.5,1706.16 L258.0,1707.69 L258.5,1709.35 L259.0,1711.07 L259.5,1712.82 L260.0,1714.57 L260.5,1716.30 L261.0,1718.01 L261.5,1719.69 L262.0,1721.31 L262.5,1722.86 L263.0,1724.31 L263.5,1725.66 L264.0,1726.91 L264.5,1728.05 L265.0,1729.11 L265.5,1730.09 L266.0,1730.98 L266.5,1731.79 L267.0,1732.51 L267.5,1733.15 L268.0,1733.69 L268.5,1734.16 L269.0,1734.57 L269.5,1734.93 L270.0,1735.25 L270.5,1735.54 L271.0,1735.81 L271.5,1736.04 L272.0,1736.25 L272.5,1736.43 L273.0,1736.58 L273.5,1736.70 L274.0,1736.80 L274.5,1736.87 L275.0,1736.93 L275.5,1736.98 L276.0,1737.02 L276.5,1737.06 L277.0,1737.09 L277.5,1737.12 L278.0,1737.15 L278.5,1737.18 L279.0,1737.21 L279.5,1737.24 L280.0,1737.26 L280.5,1737.29 L281.0,1737.31 L281.5,1737.33 L282.0,1737.35 L282.5,1737.37 L283.0,1737.38 L283.5,1737.40 L284.0,1737.41 L284.5,1737.43 L285.0,1737.44 L285.5,1737.45 L286.0,1737.46 L286.5,1737.47 L287.0,1737.48 L287.5,1737.48 L288.0,1737.49 L288.5,1737.49 L289.0,1737.49 L289.5,1737.50 L290.0,1737.50 L450.0,1736.68 L450.5,1736.73 L451.0,1736.79 L451.5,1736.85 L452.0,1736.91 L452.5,1736.97 L453.0,1737.03 L453.5,1737.07 L454.0,1737.12 L454.5,1737.15 L455.0,1737.19 L455.5,1737.21 L456.0,1737.23 L456.5,1737.25 L457.0,1737.26 L457.5,1737.28 L458.0,1737.28 L458.5,1737.29 L459.0,1737.29 L459.5,1737.27 L460.0,1737.25 L460.5,1737.20 L461.0,1737.12 L461.5,1737.00 L462.0,1736.83 L462.5,1736.61 L463.0,1736.34 L463.5,1736.02 L464.0,1735.66 L464.5,1735.25 L465.0,1734.79 L465.5,1734.25 L466.0,1733.62 L466.5,1732.89 L467.0,1732.03 L467.5,1731.05 L468.0,1729.95 L468.5,1728.73 L469.0,1727.41 L469.5,1725.98 L470.0,1724.44 L470.5,1722.78 L471.0,1721.00 L471.5,1719.11 L472.0,1717.11 L472.5,1715.02 L473.0,1712.84 L473.5,1710.58 L474.0,1708.24 L474.5,1705.82 L475.0,1703.34 L475.5,1700.82 L476.0,1698.28 L476.5,1695.75 L477.0,1693.26 L477.5,1690.82 L478.0,1688.43 L478.5,1686.10 L479.0,1683.86 L479.5,1681.73 L480.0,1679.77 L480.5,1678.01 L481.0,1676.47 L481.5,1675.15 L482.0,1674.04 L482.5,1673.11 L483.0,1672.34 L483.5,1671.72 L484.0,1671.25 L484.5,1670.93 L485.0,1670.78 L485.5,1670.81 L486.0,1671.01 L486.5,1671.38 L487.0,1671.92 L487.5,1672.60 L488.0,1673.43 L488.5,1674.42 L489.0,1675.60 L489.5,1676.97 L490.0,1678.55 L490.5,1680.32 L491.0,1682.27 L491.5,1684.37 L492.0,1686.60 L492.5,1688.94 L493.0,1691.38 L493.5,1693.91 L494.0,1696.50 L494.5,1699.14 L495.0,1701.81 L495.5,1704.50 L496.0,1707.17 L496.5,1709.82 L497.0,1712.41 L497.5,1714.91 L498.0,1717.29 L498.5,1719.54 L499.0,1721.66 L499.5,1723.64 L500.0,1725.48 L500.5,1727.18 L501.0,1728.71 L501.5,1730.07 L502.0,1731.24 L502.5,1732.23 L503.0,1733.06 L503.5,1733.75 L504.0,1734.34 L504.5,1734.85 L505.0,1735.30 L505.5,1735.69 L506.0,1736.02 L506.5,1736.30 L507.0,1736.53 L507.5,1736.71 L508.0,1736.86 L508.5,1736.97 L509.0,1737.07 L509.5,1737.15 L510.0,1737.22 L510.5,1737.29 L511.0,1737.35 L511.5,1737.41 L512.0,1737.46 L512.5,1737.51 L513.0,1737.56 L513.5,1737.60 L514.0,1737.64 L514.5,1737.67 L515.0,1737.70 L515.5,1737.72 L516.0,1737.74 L516.5,1737.76 L517.0,1737.77 L517.5,1737.78 L518.0,1737.78 L518.5,1737.77 L519.0,1737.75 L519.5,1737.72 L520.0,1737.69 L520.5,1737.64 L521.0,1737.58 L521.5,1737.52 L522.0,1737.44 L522.5,1737.37 L523.0,1737.29 L523.5,1737.21 L524.0,1737.13 L524.5,1737.05 L525.0,1736.97 L525.5,1736.90 L526.0,1736.83 L526.5,1736.77 L527.0,1736.72 L527.5,1736.68 L528.0,1736.65 L528.5,1736.63 L529.0,1736.62 L529.5,1736.61 L530.0,1736.60 L530.5,1736.60 L531.0,1736.60 L531.5,1736.60 L532.0,1736.60 L532.5,1736.60 L533.0,1736.61 L533.5,1736.61 L534.0,1736.61 L534.5,1736.61 L535.0,1736.62 L535.5,1736.62 L536.0,1736.63 L536.5,1736.63 L537.0,1736.64 L537.5,1736.65 L538.0,1736.66 L538.5,1736.67 L539.0,1736.68 L539.5,1736.69 L540.0,1736.70 L540.5,1736.72 L541.0,1736.73 L541.5,1736.75 L542.0,1736.77 L542.5,1736.79 L543.0,1736.81 L543.5,1736.83 L544.0,1736.84 L544.5,1736.86 L545.0,1736.88 L690.8,1736.88" fill="none" stroke="#ff0000" stroke-width="1.7" stroke-linejoin="round" stroke-linecap="butt" />
<path d="M85.1,1813.79 L190.0,1813.79 L190.5,1813.79 L191.0,1813.78 L191.5,1813.77 L192.0,1813.76 L192.5,1813.75 L193.0,1813.74 L193.5,1813.73 L194.0,1813.72 L194.5,1813.71 L195.0,1813.70 L195.5,1813.69 L196.0,1813.68 L196.5,1813.67 L197.0,1813.66 L197.5,1813.65 L198.0,1813.63 L198.5,1813.62 L199.0,1813.61 L199.5,1813.60 L200.0,1813.59 L200.5,1813.58 L201.0,1813.57 L201.5,1813.55 L202.0,1813.54 L202.5,1813.53 L203.0,1813.52 L203.5,1813.51 L204.0,1813.50 L204.5,1813.49 L205.0,1813.48 L205.5,1813.47 L206.0,1813.46 L206.5,1813.45 L207.0,1813.44 L207.5,1813.43 L208.0,1813.42 L208.5,1813.41 L209.0,1813.40 L209.5,1813.39 L210.0,1813.38 L210.5,1813.37 L211.0,1813.36 L211.5,1813.34 L212.0,1813.32 L212.5,1813.31 L213.0,1813.28 L213.5,1813.26 L214.0,1813.22 L214.5,1813.16 L215.0,1813.08 L215.5,1812.97 L216.0,1812.82 L216.5,1812.63 L217.0,1812.40 L217.5,1812.13 L218.0,1811.83 L218.5,1811.50 L219.0,1811.14 L219.5,1810.75 L220.0,1810.33 L220.5,1809.87 L221.0,1809.37 L221.5,1808.84 L222.0,1808.27 L222.5,1807.69 L223.0,1807.09 L223.5,1806.50 L224.0,1805.92 L224.5,1805.34 L225.0,1804.78 L225.5,1804.24 L226.0,1803.70 L226.5,1803.20 L227.0,1802.72 L227.5,1802.29 L228.0,1801.90 L228.5,1801.57 L229.0,1801.29 L229.5,1801.06 L230.0,1800.87 L230.5,1800.73 L231.0,1800.63 L231.5,1800.58 L232.0,1800.58 L232.5,1800.64 L233.0,1800.75 L233.5,1800.90 L234.0,1801.09 L234.5,1801.30 L235.0,1801.54 L235.5,1801.79 L236.0,1802.07 L236.5,1802.36 L237.0,1802.66 L237.5,1802.98 L238.0,1803.31 L238.5,1803.64 L239.0,1803.96 L239.5,1804.28 L240.0,1804.59 L240.5,1804.89 L241.0,1805.17 L241.5,1805.45 L242.0,1805.71 L242.5,1805.96 L243.0,1806.19 L243.5,1806.40 L244.0,1806.59 L244.5,1806.77 L245.0,1806.93 L245.5,1807.08 L246.0,1807.21 L246.5,1807.33 L247.0,1807.42 L247.5,1807.48 L248.0,1807.53 L248.5,1807.55 L249.0,1807.55 L249.5,1807.54 L250.0,1807.51 L250.5,1807.48 L251.0,1807.45 L251.5,1807.41 L252.0,1807.37 L252.5,1807.33 L253.0,1807.28 L253.5,1807.23 L254.0,1807.18 L254.5,1807.13 L255.0,1807.08 L255.5,1807.04 L256.0,1807.01 L256.5,1807.01 L257.0,1807.04 L257.5,1807.12 L258.0,1807.24 L258.5,1807.41 L259.0,1807.63 L259.5,1807.88 L260.0,1808.16 L260.5,1808.46 L261.0,1808.79 L261.5,1809.13 L262.0,1809.49 L262.5,1809.86 L263.0,1810.23 L263.5,1810.57 L264.0,1810.90 L264.5,1811.20 L265.0,1811.47 L265.5,1811.71 L266.0,1811.94 L266.5,1812.15 L267.0,1812.34 L267.5,1812.51 L268.0,1812.66 L268.5,1812.79 L269.0,1812.89 L269.5,1812.97 L270.0,1813.02 L270.5,1813.04 L271.0,1813.04 L271.5,1813.03 L272.0,1813.00 L272.5,1812.97 L273.0,1812.93 L273.5,1812.88 L274.0,1812.83 L274.5,1812.79 L275.0,1812.74 L275.5,1812.69 L276.0,1812.65 L276.5,1812.61 L277.0,1812.57 L277.5,1812.55 L278.0,1812.53 L278.5,1812.52 L279.0,1812.52 L279.5,1812.53 L280.0,1812.54 L280.5,1812.56 L281.0,1812.58 L281.5,1812.61 L282.0,1812.64 L282.5,1812.68 L283.0,1812.72 L283.5,1812.77 L284.0,1812.82 L284.5,1812.88 L285.0,1812.94 L285.5,1813.00 L286.0,1813.08 L286.5,1813.15 L287.0,1813.23 L287.5,1813.32 L288.0,1813.40 L288.5,1813.49 L289.0,1813.57 L289.5,1813.64 L290.0,1813.70 L455.0,1813.80 L455.5,1813.80 L456.0,1813.80 L456.5,1813.80 L457.0,1813.80 L457.5,1813.80 L458.0,1813.80 L458.5,1813.80 L459.0,1813.80 L459.5,1813.80 L460.0,1813.80 L460.5,1813.80 L461.0,1813.80 L461.5,1813.80 L462.0,1813.80 L462.5,1813.80 L463.0,1813.80 L463.5,1813.80 L464.0,1813.80 L464.5,1813.80 L465.0,1813.80 L465.5,1813.80 L466.0,1813.80 L466.5,1813.80 L467.0,1813.80 L467.5,1813.80 L468.0,1813.80 L468.5,1813.80 L469.0,1813.80 L469.5,1813.80 L470.0,1813.80 L470.5,1813.80 L471.0,1813.80 L471.5,1813.80 L472.0,1813.79 L472.5,1813.78 L473.0,1813.76 L473.5,1813.72 L474.0,1813.66 L474.5,1813.55 L475.0,1813.41 L475.5,1813.22 L476.0,1812.99 L476.5,1812.73 L477.0,1812.43 L477.5,1812.11 L478.0,1811.78 L478.5,1811.45 L479.0,1811.11 L479.5,1810.77 L480.0,1810.43 L480.5,1810.09 L481.0,1809.75 L481.5,1809.40 L482.0,1809.04 L482.5,1808.68 L483.0,1808.31 L483.5,1807.95 L484.0,1807.58 L484.5,1807.22 L485.0,1806.87 L485.5,1806.54 L486.0,1806.21 L486.5,1805.91 L487.0,1805.61 L487.5,1805.33 L488.0,1805.06 L488.5,1804.79 L489.0,1804.53 L489.5,1804.26 L490.0,1803.99 L490.5,1803.70 L491.0,1803.40 L491.5,1803.08 L492.0,1802.74 L492.5,1802.37 L493.0,1801.97 L493.5,1801.55 L494.0,1801.09 L494.5,1800.61 L495.0,1800.09 L495.5,1799.54 L496.0,1798.95 L496.5,1798.31 L497.0,1797.61 L497.5,1796.85 L498.0,1796.01 L498.5,1795.10 L499.0,1794.14 L499.5,1793.14 L500.0,1792.12 L500.5,1791.12 L501.0,1790.15 L501.5,1789.22 L502.0,1788.35 L502.5,1787.53 L503.0,1786.76 L503.5,1786.04 L504.0,1785.38 L504.5,1784.79 L505.0,1784.26 L505.5,1783.79 L506.0,1783.39 L506.5,1783.05 L507.0,1782.77 L507.5,1782.57 L508.0,1782.44 L508.5,1782.39 L509.0,1782.44 L509.5,1782.57 L510.0,1782.77 L510.5,1783.05 L511.0,1783.39 L511.5,1783.80 L512.0,1784.26 L512.5,1784.80 L513.0,1785.40 L513.5,1786.06 L514.0,1786.77 L514.5,1787.53 L515.0,1788.31 L515.5,1789.11 L516.0,1789.92 L516.5,1790.75 L517.0,1791.59 L517.5,1792.44 L518.0,1793.31 L518.5,1794.19 L519.0,1795.07 L519.5,1795.96 L520.0,1796.84 L520.5,1797.72 L521.0,1798.60 L521.5,1799.48 L522.0,1800.36 L522.5,1801.23 L523.0,1802.09 L523.5,1802.93 L524.0,1803.75 L524.5,1804.52 L525.0,1805.25 L525.5,1805.93 L526.0,1806.56 L526.5,1807.14 L527.0,1807.69 L527.5,1808.20 L528.0,1808.69 L528.5,1809.14 L529.0,1809.58 L529.5,1809.98 L530.0,1810.35 L530.5,1810.70 L531.0,1811.01 L531.5,1811.29 L532.0,1811.54 L532.5,1811.76 L533.0,1811.97 L533.5,1812.16 L534.0,1812.34 L534.5,1812.50 L535.0,1812.66 L535.5,1812.80 L536.0,1812.94 L536.5,1813.06 L537.0,1813.18 L537.5,1813.28 L538.0,1813.37 L538.5,1813.44 L539.0,1813.50 L539.5,1813.56 L540.0,1813.60 L540.5,1813.64 L541.0,1813.67 L541.5,1813.70 L542.0,1813.72 L542.5,1813.74 L543.0,1813.76 L543.5,1813.77 L544.0,1813.78 L544.5,1813.79 L545.0,1813.79 L690.8,1813.79" fill="none" stroke="#000" stroke-width="2.0" stroke-linejoin="round" stroke-linecap="butt" />
<path d="M85.1,1897.89 L180.0,1897.89 L180.5,1897.89 L181.0,1897.88 L181.5,1897.87 L182.0,1897.86 L182.5,1897.85 L183.0,1897.83 L183.5,1897.81 L184.0,1897.78 L184.5,1897.75 L185.0,1897.72 L185.5,1897.69 L186.0,1897.65 L186.5,1897.61 L187.0,1897.57 L187.5,1897.53 L188.0,1897.48 L188.5,1897.43 L189.0,1897.38 L189.5,1897.32 L190.0,1897.27 L190.5,1897.21 L191.0,1897.14 L191.5,1897.07 L192.0,1897.00 L192.5,1896.91 L193.0,1896.80 L193.5,1896.68 L194.0,1896.54 L194.5,1896.38 L195.0,1896.20 L195.5,1896.00 L196.0,1895.78 L196.5,1895.55 L197.0,1895.30 L197.5,1895.03 L198.0,1894.76 L198.5,1894.46 L199.0,1894.15 L199.5,1893.81 L200.0,1893.45 L200.5,1893.05 L201.0,1892.61 L201.5,1892.13 L202.0,1891.61 L202.5,1891.05 L203.0,1890.47 L203.5,1889.86 L204.0,1889.23 L204.5,1888.60 L205.0,1887.95 L205.5,1887.29 L206.0,1886.63 L206.5,1885.95 L207.0,1885.26 L207.5,1884.55 L208.0,1883.82 L208.5,1883.09 L209.0,1882.36 L209.5,1881.63 L210.0,1880.91 L210.5,1880.21 L211.0,1879.54 L211.5,1878.89 L212.0,1878.26 L212.5,1877.66 L213.0,1877.07 L213.5,1876.50 L214.0,1875.94 L214.5,1875.40 L215.0,1874.89 L215.5,1874.40 L216.0,1873.94 L216.5,1873.52 L217.0,1873.14 L217.5,1872.80 L218.0,1872.49 L218.5,1872.21 L219.0,1871.95 L219.5,1871.72 L220.0,1871.50 L220.5,1871.31 L221.0,1871.13 L221.5,1870.99 L222.0,1870.87 L222.5,1870.80 L223.0,1870.76 L223.5,1870.78 L224.0,1870.86 L224.5,1871.00 L225.0,1871.19 L225.5,1871.44 L226.0,1871.74 L226.5,1872.08 L227.0,1872.47 L227.5,1872.90 L228.0,1873.39 L228.5,1873.94 L229.0,1874.56 L229.5,1875.24 L230.0,1875.98 L230.5,1876.75 L231.0,1877.55 L231.5,1878.36 L232.0,1879.16 L232.5,1879.94 L233.0,1880.71 L233.5,1881.46 L234.0,1882.19 L234.5,1882.91 L235.0,1883.59 L235.5,1884.24 L236.0,1884.86 L236.5,1885.43 L237.0,1885.95 L237.5,1886.40 L238.0,1886.76 L238.5,1886.99 L239.0,1887.09 L239.5,1887.05 L240.0,1886.85 L240.5,1886.52 L241.0,1886.07 L241.5,1885.49 L242.0,1884.78 L242.5,1883.92 L243.0,1882.90 L243.5,1881.71 L244.0,1880.35 L244.5,1878.86 L245.0,1877.27 L245.5,1875.62 L246.0,1873.96 L246.5,1872.30 L247.0,1870.67 L247.5,1869.08 L248.0,1867.52 L248.5,1866.02 L249.0,1864.59 L249.5,1863.26 L250.0,1862.06 L250.5,1861.00 L251.0,1860.07 L251.5,1859.28 L252.0,1858.62 L252.5,1858.09 L253.0,1857.72 L253.5,1857.50 L254.0,1857.45 L254.5,1857.56 L255.0,1857.83 L255.5,1858.25 L256.0,1858.81 L256.5,1859.52 L257.0,1860.39 L257.5,1861.44 L258.0,1862.66 L258.5,1864.04 L259.0,1865.56 L259.5,1867.19 L260.0,1868.88 L260.5,1870.62 L261.0,1872.39 L261.5,1874.19 L262.0,1876.01 L262.5,1877.83 L263.0,1879.63 L263.5,1881.39 L264.0,1883.10 L264.5,1884.74 L265.0,1886.32 L265.5,1887.83 L266.0,1889.25 L266.5,1890.56 L267.0,1891.74 L267.5,1892.78 L268.0,1893.66 L268.5,1894.40 L269.0,1895.02 L269.5,1895.55 L270.0,1896.00 L270.5,1896.38 L271.0,1896.70 L271.5,1896.96 L272.0,1897.16 L272.5,1897.31 L273.0,1897.42 L273.5,1897.49 L274.0,1897.54 L274.5,1897.58 L275.0,1897.60 L275.5,1897.63 L276.0,1897.65 L276.5,1897.67 L277.0,1897.69 L277.5,1897.71 L278.0,1897.72 L278.5,1897.74 L279.0,1897.75 L279.5,1897.77 L280.0,1897.78 L280.5,1897.80 L281.0,1897.81 L281.5,1897.82 L282.0,1897.83 L282.5,1897.84 L283.0,1897.85 L283.5,1897.85 L284.0,1897.86 L284.5,1897.87 L285.0,1897.87 L285.5,1897.88 L286.0,1897.88 L286.5,1897.89 L287.0,1897.89 L287.5,1897.89 L288.0,1897.89 L288.5,1897.90 L289.0,1897.90 L289.5,1897.90 L290.0,1897.90 L445.0,1898.00 L445.5,1897.99 L446.0,1897.99 L446.5,1897.98 L447.0,1897.96 L447.5,1897.95 L448.0,1897.93 L448.5,1897.91 L449.0,1897.89 L449.5,1897.86 L450.0,1897.84 L450.5,1897.80 L451.0,1897.77 L451.5,1897.73 L452.0,1897.69 L452.5,1897.65 L453.0,1897.61 L453.5,1897.56 L454.0,1897.52 L454.5,1897.47 L455.0,1897.41 L455.5,1897.35 L456.0,1897.28 L456.5,1897.20 L457.0,1897.11 L457.5,1897.00 L458.0,1896.87 L458.5,1896.72 L459.0,1896.56 L459.5,1896.37 L460.0,1896.17 L460.5,1895.95 L461.0,1895.72 L461.5,1895.47 L462.0,1895.21 L462.5,1894.93 L463.0,1894.63 L463.5,1894.32 L464.0,1893.99 L464.5,1893.63 L465.0,1893.23 L465.5,1892.79 L466.0,1892.31 L466.5,1891.77 L467.0,1891.18 L467.5,1890.54 L468.0,1889.84 L468.5,1889.08 L469.0,1888.26 L469.5,1887.35 L470.0,1886.34 L470.5,1885.22 L471.0,1883.98 L471.5,1882.62 L472.0,1881.13 L472.5,1879.55 L473.0,1877.88 L473.5,1876.13 L474.0,1874.32 L474.5,1872.43 L475.0,1870.47 L475.5,1868.44 L476.0,1866.33 L476.5,1864.15 L477.0,1861.90 L477.5,1859.57 L478.0,1857.16 L478.5,1854.67 L479.0,1852.12 L479.5,1849.53 L480.0,1846.96 L480.5,1844.46 L481.0,1842.08 L481.5,1839.86 L482.0,1837.81 L482.5,1835.91 L483.0,1834.18 L483.5,1832.63 L484.0,1831.28 L484.5,1830.16 L485.0,1829.33 L485.5,1828.79 L486.0,1828.54 L486.5,1828.55 L487.0,1828.80 L487.5,1829.25 L488.0,1829.86 L488.5,1830.64 L489.0,1831.59 L489.5,1832.73 L490.0,1834.07 L490.5,1835.62 L491.0,1837.34 L491.5,1839.21 L492.0,1841.18 L492.5,1843.19 L493.0,1845.24 L493.5,1847.29 L494.0,1849.33 L494.5,1851.34 L495.0,1853.29 L495.5,1855.17 L496.0,1856.96 L496.5,1858.65 L497.0,1860.25 L497.5,1861.75 L498.0,1863.13 L498.5,1864.34 L499.0,1865.35 L499.5,1866.12 L500.0,1866.64 L500.5,1866.92 L501.0,1866.98 L501.5,1866.87 L502.0,1866.64 L502.5,1866.32 L503.0,1865.97 L503.5,1865.59 L504.0,1865.22 L504.5,1864.86 L505.0,1864.51 L505.5,1864.18 L506.0,1863.87 L506.5,1863.59 L507.0,1863.35 L507.5,1863.17 L508.0,1863.08 L508.5,1863.08 L509.0,1863.21 L509.5,1863.46 L510.0,1863.84 L510.5,1864.35 L511.0,1864.96 L511.5,1865.66 L512.0,1866.46 L512.5,1867.34 L513.0,1868.32 L513.5,1869.41 L514.0,1870.60 L514.5,1871.88 L515.0,1873.23 L515.5,1874.62 L516.0,1876.01 L516.5,1877.39 L517.0,1878.73 L517.5,1880.04 L518.0,1881.33 L518.5,1882.58 L519.0,1883.81 L519.5,1885.01 L520.0,1886.16 L520.5,1887.25 L521.0,1888.28 L521.5,1889.23 L522.0,1890.11 L522.5,1890.93 L523.0,1891.69 L523.5,1892.40 L524.0,1893.07 L524.5,1893.72 L525.0,1894.33 L525.5,1894.91 L526.0,1895.45 L526.5,1895.94 L527.0,1896.37 L527.5,1896.74 L528.0,1897.05 L528.5,1897.29 L529.0,1897.46 L529.5,1897.59 L530.0,1897.67 L530.5,1897.72 L531.0,1897.75 L531.5,1897.78 L532.0,1897.80 L532.5,1897.81 L533.0,1897.83 L533.5,1897.84 L534.0,1897.86 L534.5,1897.87 L535.0,1897.89 L535.5,1897.90 L536.0,1897.91 L536.5,1897.92 L537.0,1897.93 L537.5,1897.94 L538.0,1897.95 L538.5,1897.95 L539.0,1897.96 L539.5,1897.97 L540.0,1897.97 L540.5,1897.98 L541.0,1897.98 L541.5,1897.99 L542.0,1897.99 L542.5,1897.99 L543.0,1897.99 L543.5,1898.00 L544.0,1898.00 L544.5,1898.00 L545.0,1898.00 L690.8,1898.00" fill="none" stroke="#000" stroke-width="2.0" stroke-linejoin="round" stroke-linecap="butt" />
<line x1="84.10" y1="1903.80" x2="84.10" y2="1914.30" stroke="#000" stroke-width="2" />
<text x="84.10" y="1938.60" font-size="22.8" text-anchor="middle" fill="#000" >2150</text>
<line x1="134.74" y1="1903.80" x2="134.74" y2="1909.80" stroke="#000" stroke-width="2" />
<line x1="185.38" y1="1903.80" x2="185.38" y2="1914.30" stroke="#000" stroke-width="2" />
<text x="185.38" y="1938.60" font-size="22.8" text-anchor="middle" fill="#000" >2100</text>
<line x1="236.02" y1="1903.80" x2="236.02" y2="1909.80" stroke="#000" stroke-width="2" />
<line x1="286.67" y1="1903.80" x2="286.67" y2="1914.30" stroke="#000" stroke-width="2" />
<text x="286.67" y="1938.60" font-size="22.8" text-anchor="middle" fill="#000" >2050</text>
<line x1="337.31" y1="1903.80" x2="337.31" y2="1909.80" stroke="#000" stroke-width="2" />
<line x1="387.95" y1="1903.80" x2="387.95" y2="1914.30" stroke="#000" stroke-width="2" />
<text x="387.95" y="1938.60" font-size="22.8" text-anchor="middle" fill="#000" >2000</text>
<line x1="438.59" y1="1903.80" x2="438.59" y2="1909.80" stroke="#000" stroke-width="2" />
<line x1="489.23" y1="1903.80" x2="489.23" y2="1914.30" stroke="#000" stroke-width="2" />
<text x="489.23" y="1938.60" font-size="22.8" text-anchor="middle" fill="#000" >1950</text>
<line x1="539.88" y1="1903.80" x2="539.88" y2="1909.80" stroke="#000" stroke-width="2" />
<line x1="590.52" y1="1903.80" x2="590.52" y2="1914.30" stroke="#000" stroke-width="2" />
<text x="590.52" y="1938.60" font-size="22.8" text-anchor="middle" fill="#000" >1900</text>
<line x1="641.16" y1="1903.80" x2="641.16" y2="1909.80" stroke="#000" stroke-width="2" />
<line x1="691.80" y1="1903.80" x2="691.80" y2="1914.30" stroke="#000" stroke-width="2" />
<text x="691.80" y="1938.60" font-size="22.8" text-anchor="middle" fill="#000" >1850</text>
<text x="388.20" y="1970.40" font-size="25.8" text-anchor="middle" fill="#000" >Wavenumber (cm<tspan font-size="15.2" dy="-10.6">-1</tspan><tspan dy="10.6">)</tspan></text>
<text x="74.50" y="1638.80" font-size="26.4" text-anchor="middle" fill="#000" transform="rotate(-90 74.5 1638.8)">Normalized absorbance</text>
</svg></body></html>
